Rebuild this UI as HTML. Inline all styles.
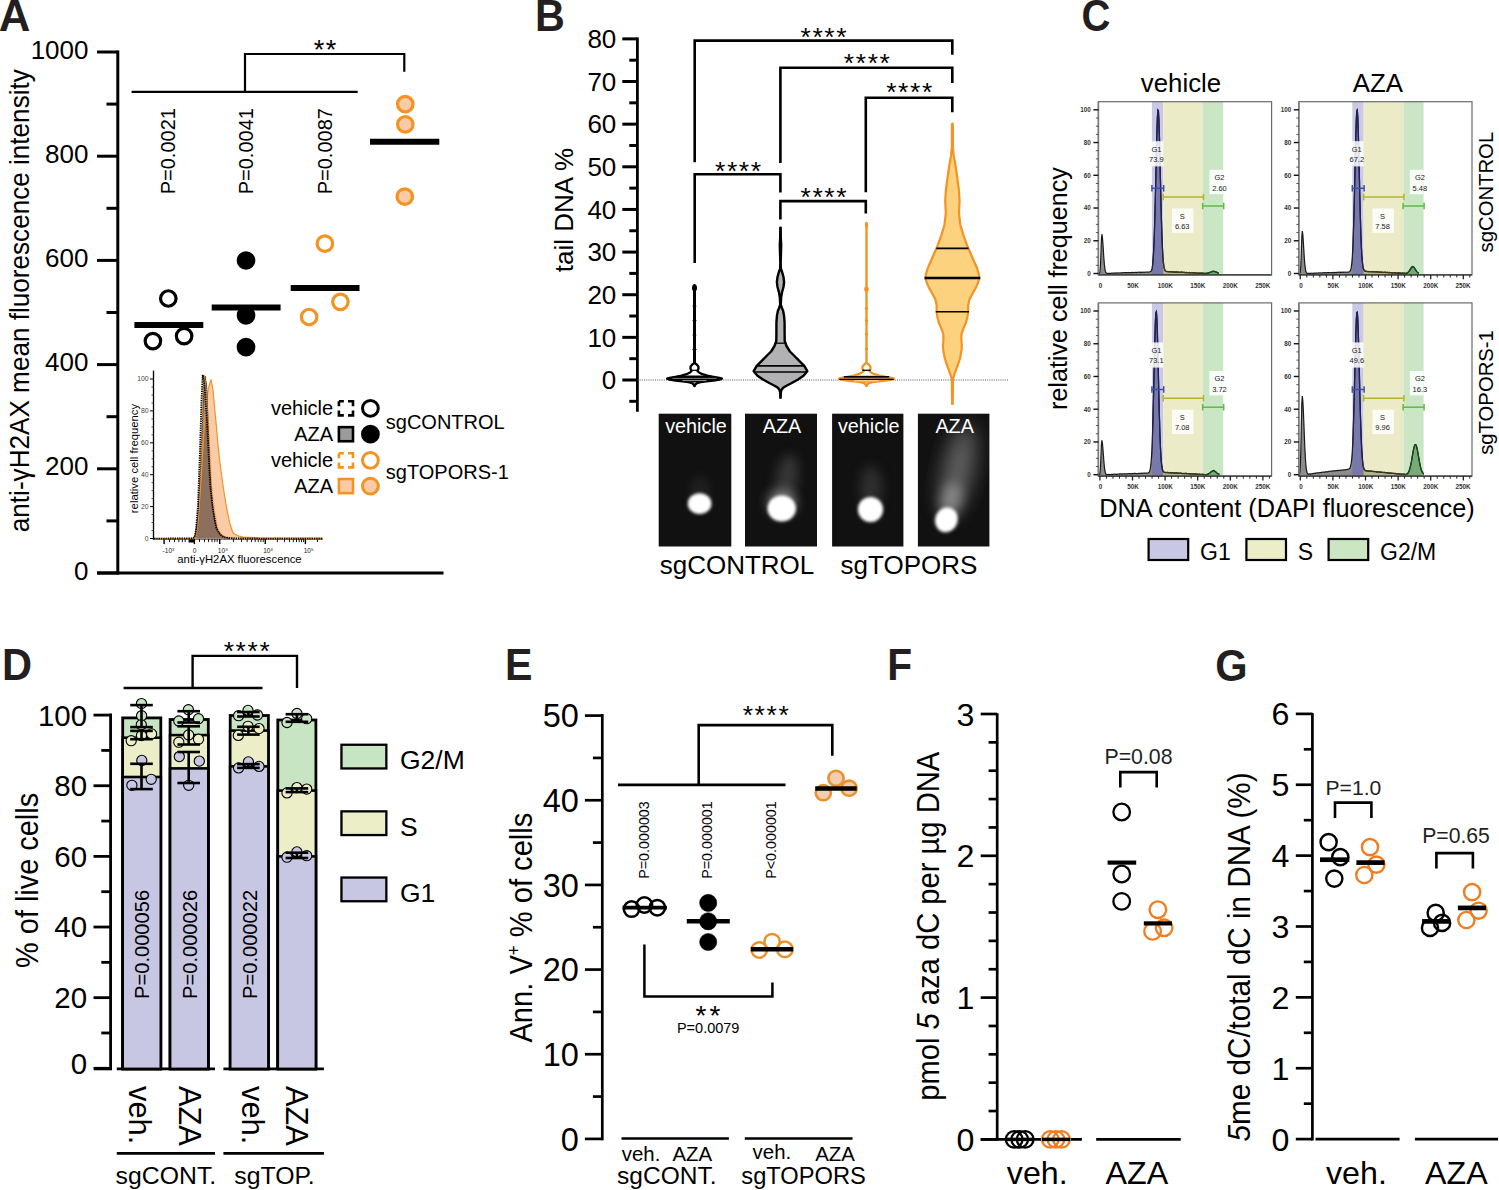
<!DOCTYPE html>
<html><head><meta charset="utf-8"><style>
html,body{margin:0;padding:0;background:#fff;}
svg{display:block;font-family:"Liberation Sans",sans-serif;}
</style></head><body>
<svg width="1499" height="1190" viewBox="0 0 1499 1190">
<defs><clipPath id="clipOr"><path d="M154,538.6 L193,538.4 L195,536 L198,520 L201,480 L204,430 L206.5,400 L208.5,388 L211,379.4 L213,390 L216.3,425.5 L218,445 L220,463.3 L222.5,482 L225.4,501 L228,515 L229.9,523.8 L232.9,532.8 L237,535.5 L243.5,537.2 L260,537.8 L322,538.2 L322,538.9 L154,538.9Z"/></clipPath><filter id="bl1" x="-50%" y="-50%" width="200%" height="200%"><feGaussianBlur stdDeviation="1.6"/></filter><filter id="bl2" x="-50%" y="-50%" width="200%" height="200%"><feGaussianBlur stdDeviation="6"/></filter><filter id="bl3" x="-50%" y="-50%" width="200%" height="200%"><feGaussianBlur stdDeviation="10"/></filter><clipPath id="cb0"><rect x="658.7" y="413.7" width="72.6" height="132.8"/></clipPath><clipPath id="cb1"><rect x="745" y="413.7" width="72" height="132.8"/></clipPath><clipPath id="cb2"><rect x="832.1" y="413.7" width="71.3" height="132.8"/></clipPath><clipPath id="cb3"><rect x="917.9" y="413.7" width="71.5" height="132.8"/></clipPath><clipPath id="c1098_101_0"><rect x="1098.4" y="101.7" width="173.2" height="175.2"/></clipPath><clipPath id="c1098_101_1"><rect x="1151.9" y="101.7" width="11.3" height="175.2"/></clipPath><clipPath id="c1098_101_2"><rect x="1163.2" y="101.7" width="39.8" height="175.2"/></clipPath><clipPath id="c1098_101_3"><rect x="1203" y="101.7" width="20.2" height="175.2"/></clipPath><path id="c1098_101_d" d="M1098.4,274.9 L1098.4,273.5 L1098.9,273.46 L1099.4,273.3 L1099.9,271.88 L1100.4,266.58 L1100.9,254.5 L1101.4,239.56 L1101.9,234.2 L1102.4,237.3 L1102.9,243.55 L1103.4,251.11 L1103.9,258.76 L1104.4,264.65 L1104.9,268.86 L1105.4,271.25 L1105.9,272.67 L1106.4,273.1 L1106.9,273.23 L1107.4,273.38 L1107.9,273.32 L1108.4,273.32 L1108.9,273.48 L1109.4,273.25 L1109.9,273.28 L1110.4,273.34 L1110.9,273.4 L1111.4,273.13 L1111.9,273.23 L1112.4,273.14 L1112.9,273.07 L1113.4,273.1 L1113.9,273.02 L1114.4,273.15 L1114.9,273.02 L1115.4,273.1 L1115.9,272.94 L1116.4,272.94 L1116.9,273.15 L1117.4,273.12 L1117.9,273.08 L1118.4,272.84 L1118.9,272.98 L1119.4,272.91 L1119.9,272.99 L1120.4,272.91 L1120.9,272.93 L1121.4,272.92 L1121.9,272.84 L1122.4,272.82 L1122.9,272.71 L1123.4,272.76 L1123.9,272.67 L1124.4,272.67 L1124.9,272.62 L1125.4,272.7 L1125.9,272.83 L1126.4,272.61 L1126.9,272.56 L1127.4,272.57 L1127.9,272.65 L1128.4,272.59 L1128.9,272.72 L1129.4,272.53 L1129.9,272.59 L1130.4,272.66 L1130.9,272.71 L1131.4,272.46 L1131.9,272.4 L1132.4,272.65 L1132.9,272.43 L1133.4,272.53 L1133.9,272.59 L1134.4,272.53 L1134.9,272.38 L1135.4,272.33 L1135.9,272.56 L1136.4,272.38 L1136.9,272.54 L1137.4,272.32 L1137.9,272.42 L1138.4,272.25 L1138.9,272.2 L1139.4,272.33 L1139.9,272.17 L1140.4,272.36 L1140.9,272.41 L1141.4,272.24 L1141.9,272.4 L1142.4,272.33 L1142.9,272.26 L1143.4,272.18 L1143.9,272.3 L1144.4,272.32 L1144.9,272.07 L1145.4,272.22 L1145.9,272.01 L1146.4,272.02 L1146.9,272.16 L1147.4,272.12 L1147.9,272.08 L1148.4,272.03 L1148.9,272.01 L1149.4,271.97 L1149.9,271.85 L1150.4,271.54 L1150.9,271.26 L1151.4,270.48 L1151.9,268.91 L1152.4,266.45 L1152.9,261.99 L1153.4,254.99 L1153.9,245.29 L1154.4,231.9 L1154.9,215.2 L1155.4,195.04 L1155.9,173.02 L1156.4,151.25 L1156.9,131.66 L1157.4,117.26 L1157.9,110.1 L1158.4,110.77 L1158.9,119.69 L1159.4,135.22 L1159.9,155.45 L1160.4,177.48 L1160.9,199.2 L1161.4,218.9 L1161.9,235.04 L1162.4,247.32 L1162.9,256.26 L1163.4,262.59 L1163.9,266.44 L1164.4,268.76 L1164.9,270.18 L1165.4,270.9 L1165.9,271.29 L1166.4,271.47 L1166.9,271.51 L1167.4,271.65 L1167.9,271.67 L1168.4,271.58 L1168.9,271.82 L1169.4,271.69 L1169.9,271.67 L1170.4,271.81 L1170.9,271.86 L1171.4,271.72 L1171.9,271.91 L1172.4,271.95 L1172.9,271.9 L1173.4,271.85 L1173.9,272.05 L1174.4,272 L1174.9,272.03 L1175.4,271.9 L1175.9,272.04 L1176.4,271.94 L1176.9,272.17 L1177.4,272.15 L1177.9,272.08 L1178.4,272.03 L1178.9,272.18 L1179.4,272.28 L1179.9,272.33 L1180.4,272.23 L1180.9,272.36 L1181.4,272.2 L1181.9,272.22 L1182.4,272.43 L1182.9,272.43 L1183.4,272.3 L1183.9,272.37 L1184.4,272.35 L1184.9,272.51 L1185.4,272.59 L1185.9,272.57 L1186.4,272.45 L1186.9,272.62 L1187.4,272.63 L1187.9,272.63 L1188.4,272.65 L1188.9,272.68 L1189.4,272.55 L1189.9,272.8 L1190.4,272.87 L1190.9,272.62 L1191.4,272.66 L1191.9,272.66 L1192.4,272.84 L1192.9,272.71 L1193.4,272.75 L1193.9,272.98 L1194.4,272.85 L1194.9,272.84 L1195.4,272.92 L1195.9,272.99 L1196.4,273.08 L1196.9,273.09 L1197.4,273.15 L1197.9,273.22 L1198.4,273.09 L1198.9,273.2 L1199.4,273.07 L1199.9,273.32 L1200.4,273.09 L1200.9,273.18 L1201.4,273.12 L1201.9,273.13 L1202.4,273.12 L1202.9,273.22 L1203.4,273.38 L1203.9,273.16 L1204.4,273.5 L1204.9,273.5 L1205.4,273.39 L1205.9,273.4 L1206.4,273.39 L1206.9,273.17 L1207.4,273.18 L1207.9,273.15 L1208.4,273.04 L1208.9,272.7 L1209.4,272.63 L1209.9,272.34 L1210.4,272.25 L1210.9,272.09 L1211.4,271.79 L1211.9,271.53 L1212.4,271.58 L1212.9,271.32 L1213.4,271.25 L1213.9,271.31 L1214.4,271.39 L1214.9,271.77 L1215.4,271.76 L1215.9,271.89 L1216.4,272.21 L1216.9,272.42 L1217.4,272.63 L1217.9,272.81 L1218.4,272.97 L1218.9,273.1 L1218.9,274.9Z"/><path id="c1098_101_l" d="M1098.4,273.5 L1098.9,273.46 L1099.4,273.3 L1099.9,271.88 L1100.4,266.58 L1100.9,254.5 L1101.4,239.56 L1101.9,234.2 L1102.4,237.3 L1102.9,243.55 L1103.4,251.11 L1103.9,258.76 L1104.4,264.65 L1104.9,268.86 L1105.4,271.25 L1105.9,272.67 L1106.4,273.1 L1106.9,273.23 L1107.4,273.38 L1107.9,273.32 L1108.4,273.32 L1108.9,273.48 L1109.4,273.25 L1109.9,273.28 L1110.4,273.34 L1110.9,273.4 L1111.4,273.13 L1111.9,273.23 L1112.4,273.14 L1112.9,273.07 L1113.4,273.1 L1113.9,273.02 L1114.4,273.15 L1114.9,273.02 L1115.4,273.1 L1115.9,272.94 L1116.4,272.94 L1116.9,273.15 L1117.4,273.12 L1117.9,273.08 L1118.4,272.84 L1118.9,272.98 L1119.4,272.91 L1119.9,272.99 L1120.4,272.91 L1120.9,272.93 L1121.4,272.92 L1121.9,272.84 L1122.4,272.82 L1122.9,272.71 L1123.4,272.76 L1123.9,272.67 L1124.4,272.67 L1124.9,272.62 L1125.4,272.7 L1125.9,272.83 L1126.4,272.61 L1126.9,272.56 L1127.4,272.57 L1127.9,272.65 L1128.4,272.59 L1128.9,272.72 L1129.4,272.53 L1129.9,272.59 L1130.4,272.66 L1130.9,272.71 L1131.4,272.46 L1131.9,272.4 L1132.4,272.65 L1132.9,272.43 L1133.4,272.53 L1133.9,272.59 L1134.4,272.53 L1134.9,272.38 L1135.4,272.33 L1135.9,272.56 L1136.4,272.38 L1136.9,272.54 L1137.4,272.32 L1137.9,272.42 L1138.4,272.25 L1138.9,272.2 L1139.4,272.33 L1139.9,272.17 L1140.4,272.36 L1140.9,272.41 L1141.4,272.24 L1141.9,272.4 L1142.4,272.33 L1142.9,272.26 L1143.4,272.18 L1143.9,272.3 L1144.4,272.32 L1144.9,272.07 L1145.4,272.22 L1145.9,272.01 L1146.4,272.02 L1146.9,272.16 L1147.4,272.12 L1147.9,272.08 L1148.4,272.03 L1148.9,272.01 L1149.4,271.97 L1149.9,271.85 L1150.4,271.54 L1150.9,271.26 L1151.4,270.48 L1151.9,268.91 L1152.4,266.45 L1152.9,261.99 L1153.4,254.99 L1153.9,245.29 L1154.4,231.9 L1154.9,215.2 L1155.4,195.04 L1155.9,173.02 L1156.4,151.25 L1156.9,131.66 L1157.4,117.26 L1157.9,110.1 L1158.4,110.77 L1158.9,119.69 L1159.4,135.22 L1159.9,155.45 L1160.4,177.48 L1160.9,199.2 L1161.4,218.9 L1161.9,235.04 L1162.4,247.32 L1162.9,256.26 L1163.4,262.59 L1163.9,266.44 L1164.4,268.76 L1164.9,270.18 L1165.4,270.9 L1165.9,271.29 L1166.4,271.47 L1166.9,271.51 L1167.4,271.65 L1167.9,271.67 L1168.4,271.58 L1168.9,271.82 L1169.4,271.69 L1169.9,271.67 L1170.4,271.81 L1170.9,271.86 L1171.4,271.72 L1171.9,271.91 L1172.4,271.95 L1172.9,271.9 L1173.4,271.85 L1173.9,272.05 L1174.4,272 L1174.9,272.03 L1175.4,271.9 L1175.9,272.04 L1176.4,271.94 L1176.9,272.17 L1177.4,272.15 L1177.9,272.08 L1178.4,272.03 L1178.9,272.18 L1179.4,272.28 L1179.9,272.33 L1180.4,272.23 L1180.9,272.36 L1181.4,272.2 L1181.9,272.22 L1182.4,272.43 L1182.9,272.43 L1183.4,272.3 L1183.9,272.37 L1184.4,272.35 L1184.9,272.51 L1185.4,272.59 L1185.9,272.57 L1186.4,272.45 L1186.9,272.62 L1187.4,272.63 L1187.9,272.63 L1188.4,272.65 L1188.9,272.68 L1189.4,272.55 L1189.9,272.8 L1190.4,272.87 L1190.9,272.62 L1191.4,272.66 L1191.9,272.66 L1192.4,272.84 L1192.9,272.71 L1193.4,272.75 L1193.9,272.98 L1194.4,272.85 L1194.9,272.84 L1195.4,272.92 L1195.9,272.99 L1196.4,273.08 L1196.9,273.09 L1197.4,273.15 L1197.9,273.22 L1198.4,273.09 L1198.9,273.2 L1199.4,273.07 L1199.9,273.32 L1200.4,273.09 L1200.9,273.18 L1201.4,273.12 L1201.9,273.13 L1202.4,273.12 L1202.9,273.22 L1203.4,273.38 L1203.9,273.16 L1204.4,273.5 L1204.9,273.5 L1205.4,273.39 L1205.9,273.4 L1206.4,273.39 L1206.9,273.17 L1207.4,273.18 L1207.9,273.15 L1208.4,273.04 L1208.9,272.7 L1209.4,272.63 L1209.9,272.34 L1210.4,272.25 L1210.9,272.09 L1211.4,271.79 L1211.9,271.53 L1212.4,271.58 L1212.9,271.32 L1213.4,271.25 L1213.9,271.31 L1214.4,271.39 L1214.9,271.77 L1215.4,271.76 L1215.9,271.89 L1216.4,272.21 L1216.9,272.42 L1217.4,272.63 L1217.9,272.81 L1218.4,272.97 L1218.9,273.1"/><clipPath id="c1298_101_0"><rect x="1298.8" y="101.7" width="173.2" height="175.2"/></clipPath><clipPath id="c1298_101_1"><rect x="1352.3" y="101.7" width="11.3" height="175.2"/></clipPath><clipPath id="c1298_101_2"><rect x="1363.6" y="101.7" width="39.8" height="175.2"/></clipPath><clipPath id="c1298_101_3"><rect x="1403.4" y="101.7" width="20.2" height="175.2"/></clipPath><path id="c1298_101_d" d="M1298.8,274.9 L1298.8,273.5 L1299.3,273.5 L1299.8,273.31 L1300.3,271.77 L1300.8,266.07 L1301.3,252.79 L1301.8,236.5 L1302.3,231.18 L1302.8,234.34 L1303.3,241.08 L1303.8,249.51 L1304.3,257.65 L1304.8,263.88 L1305.3,268.37 L1305.8,271.23 L1306.3,272.48 L1306.8,273.17 L1307.3,273.38 L1307.8,273.43 L1308.3,273.35 L1308.8,273.35 L1309.3,273.39 L1309.8,273.42 L1310.3,273.36 L1310.8,273.39 L1311.3,273.25 L1311.8,273.18 L1312.3,273.26 L1312.8,273.32 L1313.3,273.28 L1313.8,273.2 L1314.3,273.11 L1314.8,273.04 L1315.3,273.14 L1315.8,273 L1316.3,273.03 L1316.8,273.07 L1317.3,273.07 L1317.8,273.02 L1318.3,272.94 L1318.8,273 L1319.3,272.9 L1319.8,272.96 L1320.3,273 L1320.8,272.9 L1321.3,272.84 L1321.8,273 L1322.3,272.88 L1322.8,272.87 L1323.3,272.72 L1323.8,272.68 L1324.3,272.83 L1324.8,272.66 L1325.3,272.68 L1325.8,272.82 L1326.3,272.74 L1326.8,272.83 L1327.3,272.61 L1327.8,272.64 L1328.3,272.56 L1328.8,272.57 L1329.3,272.59 L1329.8,272.55 L1330.3,272.59 L1330.8,272.71 L1331.3,272.55 L1331.8,272.71 L1332.3,272.65 L1332.8,272.45 L1333.3,272.65 L1333.8,272.62 L1334.3,272.61 L1334.8,272.36 L1335.3,272.55 L1335.8,272.58 L1336.3,272.33 L1336.8,272.53 L1337.3,272.3 L1337.8,272.34 L1338.3,272.27 L1338.8,272.22 L1339.3,272.32 L1339.8,272.24 L1340.3,272.45 L1340.8,272.22 L1341.3,272.28 L1341.8,272.21 L1342.3,272.38 L1342.8,272.17 L1343.3,272.1 L1343.8,272.35 L1344.3,272.26 L1344.8,272.17 L1345.3,272.08 L1345.8,272.24 L1346.3,272.24 L1346.8,272.21 L1347.3,272.08 L1347.8,272.01 L1348.3,272.07 L1348.8,271.99 L1349.3,271.8 L1349.8,271.44 L1350.3,270.7 L1350.8,269.46 L1351.3,267.01 L1351.8,262.99 L1352.3,257.06 L1352.8,247.96 L1353.3,235.47 L1353.8,218.97 L1354.3,199.28 L1354.8,177.38 L1355.3,155.29 L1355.8,135.15 L1356.3,119.51 L1356.8,110.56 L1357.3,109.94 L1357.8,117.28 L1358.3,131.48 L1358.8,150.85 L1359.3,172.91 L1359.8,194.91 L1360.3,214.88 L1360.8,231.9 L1361.3,245.08 L1361.8,254.75 L1362.3,261.26 L1362.8,265.61 L1363.3,268.26 L1363.8,269.63 L1364.3,270.39 L1364.8,271.02 L1365.3,271.12 L1365.8,271.32 L1366.3,271.26 L1366.8,271.38 L1367.3,271.51 L1367.8,271.55 L1368.3,271.63 L1368.8,271.53 L1369.3,271.58 L1369.8,271.67 L1370.3,271.64 L1370.8,271.68 L1371.3,271.57 L1371.8,271.78 L1372.3,271.56 L1372.8,271.74 L1373.3,271.73 L1373.8,271.79 L1374.3,271.71 L1374.8,271.74 L1375.3,271.84 L1375.8,271.89 L1376.3,271.85 L1376.8,271.83 L1377.3,271.99 L1377.8,271.92 L1378.3,271.88 L1378.8,272.05 L1379.3,272.15 L1379.8,272.17 L1380.3,272.06 L1380.8,272.09 L1381.3,272.04 L1381.8,272.09 L1382.3,272.3 L1382.8,272.34 L1383.3,272.35 L1383.8,272.39 L1384.3,272.27 L1384.8,272.25 L1385.3,272.26 L1385.8,272.48 L1386.3,272.32 L1386.8,272.51 L1387.3,272.51 L1387.8,272.44 L1388.3,272.66 L1388.8,272.68 L1389.3,272.49 L1389.8,272.68 L1390.3,272.68 L1390.8,272.64 L1391.3,272.64 L1391.8,272.86 L1392.3,272.79 L1392.8,272.79 L1393.3,272.8 L1393.8,272.91 L1394.3,272.82 L1394.8,272.74 L1395.3,272.93 L1395.8,272.91 L1396.3,273.07 L1396.8,273.05 L1397.3,272.96 L1397.8,273.15 L1398.3,272.94 L1398.8,272.96 L1399.3,273.23 L1399.8,273.01 L1400.3,273.2 L1400.8,273.11 L1401.3,273.14 L1401.8,273.28 L1402.3,273.17 L1402.8,273.18 L1403.3,273.13 L1403.8,273.28 L1404.3,273.13 L1404.8,273.32 L1405.3,273.37 L1405.8,273.35 L1406.3,273.38 L1406.8,273.12 L1407.3,272.93 L1407.8,272.51 L1408.3,272.09 L1408.8,271.57 L1409.3,271.01 L1409.8,270.11 L1410.3,269.29 L1410.8,268.6 L1411.3,267.64 L1411.8,267.11 L1412.3,266.87 L1412.8,266.5 L1413.3,266.87 L1413.8,267.2 L1414.3,267.69 L1414.8,268.48 L1415.3,269.31 L1415.8,270.11 L1416.3,270.93 L1416.8,271.59 L1417.3,272.14 L1417.8,272.57 L1418.3,272.89 L1418.8,273.11 L1418.8,274.9Z"/><path id="c1298_101_l" d="M1298.8,273.5 L1299.3,273.5 L1299.8,273.31 L1300.3,271.77 L1300.8,266.07 L1301.3,252.79 L1301.8,236.5 L1302.3,231.18 L1302.8,234.34 L1303.3,241.08 L1303.8,249.51 L1304.3,257.65 L1304.8,263.88 L1305.3,268.37 L1305.8,271.23 L1306.3,272.48 L1306.8,273.17 L1307.3,273.38 L1307.8,273.43 L1308.3,273.35 L1308.8,273.35 L1309.3,273.39 L1309.8,273.42 L1310.3,273.36 L1310.8,273.39 L1311.3,273.25 L1311.8,273.18 L1312.3,273.26 L1312.8,273.32 L1313.3,273.28 L1313.8,273.2 L1314.3,273.11 L1314.8,273.04 L1315.3,273.14 L1315.8,273 L1316.3,273.03 L1316.8,273.07 L1317.3,273.07 L1317.8,273.02 L1318.3,272.94 L1318.8,273 L1319.3,272.9 L1319.8,272.96 L1320.3,273 L1320.8,272.9 L1321.3,272.84 L1321.8,273 L1322.3,272.88 L1322.8,272.87 L1323.3,272.72 L1323.8,272.68 L1324.3,272.83 L1324.8,272.66 L1325.3,272.68 L1325.8,272.82 L1326.3,272.74 L1326.8,272.83 L1327.3,272.61 L1327.8,272.64 L1328.3,272.56 L1328.8,272.57 L1329.3,272.59 L1329.8,272.55 L1330.3,272.59 L1330.8,272.71 L1331.3,272.55 L1331.8,272.71 L1332.3,272.65 L1332.8,272.45 L1333.3,272.65 L1333.8,272.62 L1334.3,272.61 L1334.8,272.36 L1335.3,272.55 L1335.8,272.58 L1336.3,272.33 L1336.8,272.53 L1337.3,272.3 L1337.8,272.34 L1338.3,272.27 L1338.8,272.22 L1339.3,272.32 L1339.8,272.24 L1340.3,272.45 L1340.8,272.22 L1341.3,272.28 L1341.8,272.21 L1342.3,272.38 L1342.8,272.17 L1343.3,272.1 L1343.8,272.35 L1344.3,272.26 L1344.8,272.17 L1345.3,272.08 L1345.8,272.24 L1346.3,272.24 L1346.8,272.21 L1347.3,272.08 L1347.8,272.01 L1348.3,272.07 L1348.8,271.99 L1349.3,271.8 L1349.8,271.44 L1350.3,270.7 L1350.8,269.46 L1351.3,267.01 L1351.8,262.99 L1352.3,257.06 L1352.8,247.96 L1353.3,235.47 L1353.8,218.97 L1354.3,199.28 L1354.8,177.38 L1355.3,155.29 L1355.8,135.15 L1356.3,119.51 L1356.8,110.56 L1357.3,109.94 L1357.8,117.28 L1358.3,131.48 L1358.8,150.85 L1359.3,172.91 L1359.8,194.91 L1360.3,214.88 L1360.8,231.9 L1361.3,245.08 L1361.8,254.75 L1362.3,261.26 L1362.8,265.61 L1363.3,268.26 L1363.8,269.63 L1364.3,270.39 L1364.8,271.02 L1365.3,271.12 L1365.8,271.32 L1366.3,271.26 L1366.8,271.38 L1367.3,271.51 L1367.8,271.55 L1368.3,271.63 L1368.8,271.53 L1369.3,271.58 L1369.8,271.67 L1370.3,271.64 L1370.8,271.68 L1371.3,271.57 L1371.8,271.78 L1372.3,271.56 L1372.8,271.74 L1373.3,271.73 L1373.8,271.79 L1374.3,271.71 L1374.8,271.74 L1375.3,271.84 L1375.8,271.89 L1376.3,271.85 L1376.8,271.83 L1377.3,271.99 L1377.8,271.92 L1378.3,271.88 L1378.8,272.05 L1379.3,272.15 L1379.8,272.17 L1380.3,272.06 L1380.8,272.09 L1381.3,272.04 L1381.8,272.09 L1382.3,272.3 L1382.8,272.34 L1383.3,272.35 L1383.8,272.39 L1384.3,272.27 L1384.8,272.25 L1385.3,272.26 L1385.8,272.48 L1386.3,272.32 L1386.8,272.51 L1387.3,272.51 L1387.8,272.44 L1388.3,272.66 L1388.8,272.68 L1389.3,272.49 L1389.8,272.68 L1390.3,272.68 L1390.8,272.64 L1391.3,272.64 L1391.8,272.86 L1392.3,272.79 L1392.8,272.79 L1393.3,272.8 L1393.8,272.91 L1394.3,272.82 L1394.8,272.74 L1395.3,272.93 L1395.8,272.91 L1396.3,273.07 L1396.8,273.05 L1397.3,272.96 L1397.8,273.15 L1398.3,272.94 L1398.8,272.96 L1399.3,273.23 L1399.8,273.01 L1400.3,273.2 L1400.8,273.11 L1401.3,273.14 L1401.8,273.28 L1402.3,273.17 L1402.8,273.18 L1403.3,273.13 L1403.8,273.28 L1404.3,273.13 L1404.8,273.32 L1405.3,273.37 L1405.8,273.35 L1406.3,273.38 L1406.8,273.12 L1407.3,272.93 L1407.8,272.51 L1408.3,272.09 L1408.8,271.57 L1409.3,271.01 L1409.8,270.11 L1410.3,269.29 L1410.8,268.6 L1411.3,267.64 L1411.8,267.11 L1412.3,266.87 L1412.8,266.5 L1413.3,266.87 L1413.8,267.2 L1414.3,267.69 L1414.8,268.48 L1415.3,269.31 L1415.8,270.11 L1416.3,270.93 L1416.8,271.59 L1417.3,272.14 L1417.8,272.57 L1418.3,272.89 L1418.8,273.11"/><clipPath id="c1098_302_0"><rect x="1098.4" y="302.9" width="173.2" height="175.2"/></clipPath><clipPath id="c1098_302_1"><rect x="1151.9" y="302.9" width="11.3" height="175.2"/></clipPath><clipPath id="c1098_302_2"><rect x="1163.2" y="302.9" width="39.8" height="175.2"/></clipPath><clipPath id="c1098_302_3"><rect x="1203" y="302.9" width="20.2" height="175.2"/></clipPath><path id="c1098_302_d" d="M1098.4,476.1 L1098.4,474.7 L1098.9,474.7 L1099.4,474.62 L1099.9,473.25 L1100.4,468.6 L1100.9,457.95 L1101.4,444.81 L1101.9,440.44 L1102.4,443.04 L1102.9,448.46 L1103.4,455.13 L1103.9,461.93 L1104.4,467.05 L1104.9,470.71 L1105.4,472.69 L1105.9,473.92 L1106.4,474.44 L1106.9,474.58 L1107.4,474.58 L1107.9,474.5 L1108.4,474.6 L1108.9,474.43 L1109.4,474.62 L1109.9,474.55 L1110.4,474.58 L1110.9,474.55 L1111.4,474.33 L1111.9,474.32 L1112.4,474.46 L1112.9,474.44 L1113.4,474.35 L1113.9,474.23 L1114.4,474.19 L1114.9,474.19 L1115.4,474.21 L1115.9,474.32 L1116.4,474.23 L1116.9,474.27 L1117.4,474.15 L1117.9,474.12 L1118.4,474.21 L1118.9,474.18 L1119.4,474 L1119.9,474.2 L1120.4,473.96 L1120.9,473.91 L1121.4,473.88 L1121.9,474.02 L1122.4,473.96 L1122.9,473.93 L1123.4,473.9 L1123.9,473.78 L1124.4,473.84 L1124.9,473.94 L1125.4,473.76 L1125.9,473.85 L1126.4,473.8 L1126.9,473.74 L1127.4,473.94 L1127.9,473.7 L1128.4,473.71 L1128.9,473.75 L1129.4,473.72 L1129.9,473.72 L1130.4,473.78 L1130.9,473.67 L1131.4,473.79 L1131.9,473.64 L1132.4,473.58 L1132.9,473.63 L1133.4,473.57 L1133.9,473.44 L1134.4,473.44 L1134.9,473.65 L1135.4,473.44 L1135.9,473.47 L1136.4,473.63 L1136.9,473.52 L1137.4,473.54 L1137.9,473.57 L1138.4,473.42 L1138.9,473.29 L1139.4,473.45 L1139.9,473.27 L1140.4,473.31 L1140.9,473.46 L1141.4,473.23 L1141.9,473.29 L1142.4,473.18 L1142.9,473.23 L1143.4,473.2 L1143.9,473.31 L1144.4,473.15 L1144.9,473.1 L1145.4,473.11 L1145.9,473.21 L1146.4,473.1 L1146.9,473.15 L1147.4,473.21 L1147.9,473.14 L1148.4,472.95 L1148.9,472.54 L1149.4,471.83 L1149.9,470.41 L1150.4,468.01 L1150.9,464.2 L1151.4,458.17 L1151.9,449.14 L1152.4,436.84 L1152.9,420.52 L1153.4,400.84 L1153.9,379.12 L1154.4,356.96 L1154.9,336.71 L1155.4,321.25 L1155.9,312.53 L1156.4,311.7 L1156.9,318.95 L1157.4,333.26 L1157.9,352.7 L1158.4,374.59 L1158.9,396.4 L1159.4,416.18 L1159.9,433.15 L1160.4,446.19 L1160.9,455.87 L1161.4,462.46 L1161.9,466.72 L1162.4,469.23 L1162.9,470.81 L1163.4,471.68 L1163.9,472.09 L1164.4,472.3 L1164.9,472.32 L1165.4,472.52 L1165.9,472.57 L1166.4,472.48 L1166.9,472.52 L1167.4,472.46 L1167.9,472.68 L1168.4,472.61 L1168.9,472.64 L1169.4,472.77 L1169.9,472.53 L1170.4,472.77 L1170.9,472.84 L1171.4,472.75 L1171.9,472.87 L1172.4,472.77 L1172.9,472.88 L1173.4,472.97 L1173.9,473.02 L1174.4,472.85 L1174.9,473.01 L1175.4,472.89 L1175.9,473.01 L1176.4,472.9 L1176.9,473.11 L1177.4,473.16 L1177.9,473.18 L1178.4,473.04 L1178.9,473.13 L1179.4,473.24 L1179.9,473.34 L1180.4,473.2 L1180.9,473.14 L1181.4,473.28 L1181.9,473.48 L1182.4,473.5 L1182.9,473.51 L1183.4,473.51 L1183.9,473.58 L1184.4,473.6 L1184.9,473.45 L1185.4,473.41 L1185.9,473.64 L1186.4,473.44 L1186.9,473.62 L1187.4,473.55 L1187.9,473.54 L1188.4,473.57 L1188.9,473.86 L1189.4,473.81 L1189.9,473.75 L1190.4,473.68 L1190.9,473.96 L1191.4,473.92 L1191.9,473.79 L1192.4,474.03 L1192.9,473.98 L1193.4,474.02 L1193.9,473.95 L1194.4,473.9 L1194.9,474.15 L1195.4,474.02 L1195.9,474.05 L1196.4,474.04 L1196.9,474.15 L1197.4,474.07 L1197.9,474.27 L1198.4,474.28 L1198.9,474.36 L1199.4,474.23 L1199.9,474.34 L1200.4,474.43 L1200.9,474.49 L1201.4,474.34 L1201.9,474.37 L1202.4,474.34 L1202.9,474.44 L1203.4,474.4 L1203.9,474.5 L1204.4,474.62 L1204.9,474.7 L1205.4,474.66 L1205.9,474.54 L1206.4,474.51 L1206.9,474.59 L1207.4,474.43 L1207.9,474.08 L1208.4,473.92 L1208.9,473.57 L1209.4,473.22 L1209.9,472.95 L1210.4,472.38 L1210.9,471.97 L1211.4,471.64 L1211.9,471.23 L1212.4,471 L1212.9,470.71 L1213.4,470.47 L1213.9,470.79 L1214.4,470.86 L1214.9,471.31 L1215.4,471.71 L1215.9,471.99 L1216.4,472.49 L1216.9,472.93 L1217.4,473.33 L1217.9,473.68 L1218.4,473.96 L1218.9,474.19 L1219.4,474.35 L1219.4,476.1Z"/><path id="c1098_302_l" d="M1098.4,474.7 L1098.9,474.7 L1099.4,474.62 L1099.9,473.25 L1100.4,468.6 L1100.9,457.95 L1101.4,444.81 L1101.9,440.44 L1102.4,443.04 L1102.9,448.46 L1103.4,455.13 L1103.9,461.93 L1104.4,467.05 L1104.9,470.71 L1105.4,472.69 L1105.9,473.92 L1106.4,474.44 L1106.9,474.58 L1107.4,474.58 L1107.9,474.5 L1108.4,474.6 L1108.9,474.43 L1109.4,474.62 L1109.9,474.55 L1110.4,474.58 L1110.9,474.55 L1111.4,474.33 L1111.9,474.32 L1112.4,474.46 L1112.9,474.44 L1113.4,474.35 L1113.9,474.23 L1114.4,474.19 L1114.9,474.19 L1115.4,474.21 L1115.9,474.32 L1116.4,474.23 L1116.9,474.27 L1117.4,474.15 L1117.9,474.12 L1118.4,474.21 L1118.9,474.18 L1119.4,474 L1119.9,474.2 L1120.4,473.96 L1120.9,473.91 L1121.4,473.88 L1121.9,474.02 L1122.4,473.96 L1122.9,473.93 L1123.4,473.9 L1123.9,473.78 L1124.4,473.84 L1124.9,473.94 L1125.4,473.76 L1125.9,473.85 L1126.4,473.8 L1126.9,473.74 L1127.4,473.94 L1127.9,473.7 L1128.4,473.71 L1128.9,473.75 L1129.4,473.72 L1129.9,473.72 L1130.4,473.78 L1130.9,473.67 L1131.4,473.79 L1131.9,473.64 L1132.4,473.58 L1132.9,473.63 L1133.4,473.57 L1133.9,473.44 L1134.4,473.44 L1134.9,473.65 L1135.4,473.44 L1135.9,473.47 L1136.4,473.63 L1136.9,473.52 L1137.4,473.54 L1137.9,473.57 L1138.4,473.42 L1138.9,473.29 L1139.4,473.45 L1139.9,473.27 L1140.4,473.31 L1140.9,473.46 L1141.4,473.23 L1141.9,473.29 L1142.4,473.18 L1142.9,473.23 L1143.4,473.2 L1143.9,473.31 L1144.4,473.15 L1144.9,473.1 L1145.4,473.11 L1145.9,473.21 L1146.4,473.1 L1146.9,473.15 L1147.4,473.21 L1147.9,473.14 L1148.4,472.95 L1148.9,472.54 L1149.4,471.83 L1149.9,470.41 L1150.4,468.01 L1150.9,464.2 L1151.4,458.17 L1151.9,449.14 L1152.4,436.84 L1152.9,420.52 L1153.4,400.84 L1153.9,379.12 L1154.4,356.96 L1154.9,336.71 L1155.4,321.25 L1155.9,312.53 L1156.4,311.7 L1156.9,318.95 L1157.4,333.26 L1157.9,352.7 L1158.4,374.59 L1158.9,396.4 L1159.4,416.18 L1159.9,433.15 L1160.4,446.19 L1160.9,455.87 L1161.4,462.46 L1161.9,466.72 L1162.4,469.23 L1162.9,470.81 L1163.4,471.68 L1163.9,472.09 L1164.4,472.3 L1164.9,472.32 L1165.4,472.52 L1165.9,472.57 L1166.4,472.48 L1166.9,472.52 L1167.4,472.46 L1167.9,472.68 L1168.4,472.61 L1168.9,472.64 L1169.4,472.77 L1169.9,472.53 L1170.4,472.77 L1170.9,472.84 L1171.4,472.75 L1171.9,472.87 L1172.4,472.77 L1172.9,472.88 L1173.4,472.97 L1173.9,473.02 L1174.4,472.85 L1174.9,473.01 L1175.4,472.89 L1175.9,473.01 L1176.4,472.9 L1176.9,473.11 L1177.4,473.16 L1177.9,473.18 L1178.4,473.04 L1178.9,473.13 L1179.4,473.24 L1179.9,473.34 L1180.4,473.2 L1180.9,473.14 L1181.4,473.28 L1181.9,473.48 L1182.4,473.5 L1182.9,473.51 L1183.4,473.51 L1183.9,473.58 L1184.4,473.6 L1184.9,473.45 L1185.4,473.41 L1185.9,473.64 L1186.4,473.44 L1186.9,473.62 L1187.4,473.55 L1187.9,473.54 L1188.4,473.57 L1188.9,473.86 L1189.4,473.81 L1189.9,473.75 L1190.4,473.68 L1190.9,473.96 L1191.4,473.92 L1191.9,473.79 L1192.4,474.03 L1192.9,473.98 L1193.4,474.02 L1193.9,473.95 L1194.4,473.9 L1194.9,474.15 L1195.4,474.02 L1195.9,474.05 L1196.4,474.04 L1196.9,474.15 L1197.4,474.07 L1197.9,474.27 L1198.4,474.28 L1198.9,474.36 L1199.4,474.23 L1199.9,474.34 L1200.4,474.43 L1200.9,474.49 L1201.4,474.34 L1201.9,474.37 L1202.4,474.34 L1202.9,474.44 L1203.4,474.4 L1203.9,474.5 L1204.4,474.62 L1204.9,474.7 L1205.4,474.66 L1205.9,474.54 L1206.4,474.51 L1206.9,474.59 L1207.4,474.43 L1207.9,474.08 L1208.4,473.92 L1208.9,473.57 L1209.4,473.22 L1209.9,472.95 L1210.4,472.38 L1210.9,471.97 L1211.4,471.64 L1211.9,471.23 L1212.4,471 L1212.9,470.71 L1213.4,470.47 L1213.9,470.79 L1214.4,470.86 L1214.9,471.31 L1215.4,471.71 L1215.9,471.99 L1216.4,472.49 L1216.9,472.93 L1217.4,473.33 L1217.9,473.68 L1218.4,473.96 L1218.9,474.19 L1219.4,474.35"/><clipPath id="c1298_302_0"><rect x="1298.8" y="302.9" width="173.2" height="175.2"/></clipPath><clipPath id="c1298_302_1"><rect x="1352.3" y="302.9" width="11.3" height="175.2"/></clipPath><clipPath id="c1298_302_2"><rect x="1363.6" y="302.9" width="39.8" height="175.2"/></clipPath><clipPath id="c1298_302_3"><rect x="1403.4" y="302.9" width="20.2" height="175.2"/></clipPath><path id="c1298_302_d" d="M1298.8,476.1 L1298.8,474.7 L1299.3,474.4 L1299.8,472.56 L1300.3,466.19 L1300.8,451.24 L1301.3,427.19 L1301.8,403.59 L1302.3,396.11 L1302.8,400.45 L1303.3,409.49 L1303.8,421.79 L1304.3,434.83 L1304.8,446.99 L1305.3,456.78 L1305.8,464.06 L1306.3,468.92 L1306.8,471.79 L1307.3,473.25 L1307.8,473.71 L1308.3,474.19 L1308.8,474.28 L1309.3,473.97 L1309.8,474.13 L1310.3,473.85 L1310.8,474 L1311.3,473.81 L1311.8,473.8 L1312.3,473.55 L1312.8,473.54 L1313.3,473.45 L1313.8,473.34 L1314.3,473.24 L1314.8,473.32 L1315.3,473.18 L1315.8,473.15 L1316.3,473.18 L1316.8,472.9 L1317.3,472.9 L1317.8,472.77 L1318.3,472.88 L1318.8,472.72 L1319.3,472.68 L1319.8,472.53 L1320.3,472.66 L1320.8,472.52 L1321.3,472.41 L1321.8,472.47 L1322.3,472.27 L1322.8,472.15 L1323.3,472.18 L1323.8,472.06 L1324.3,472.01 L1324.8,472.06 L1325.3,471.96 L1325.8,471.71 L1326.3,471.85 L1326.8,471.76 L1327.3,471.8 L1327.8,471.7 L1328.3,471.66 L1328.8,471.38 L1329.3,471.38 L1329.8,471.28 L1330.3,471.19 L1330.8,471.24 L1331.3,471.09 L1331.8,471.15 L1332.3,471.13 L1332.8,470.91 L1333.3,470.87 L1333.8,470.8 L1334.3,470.88 L1334.8,470.74 L1335.3,470.8 L1335.8,470.57 L1336.3,470.53 L1336.8,470.66 L1337.3,470.42 L1337.8,470.59 L1338.3,470.56 L1338.8,470.32 L1339.3,470.39 L1339.8,470.27 L1340.3,470.18 L1340.8,470.31 L1341.3,470.05 L1341.8,470.13 L1342.3,470.03 L1342.8,470.01 L1343.3,469.84 L1343.8,469.78 L1344.3,469.86 L1344.8,469.87 L1345.3,469.76 L1345.8,469.67 L1346.3,469.72 L1346.8,469.64 L1347.3,469.4 L1347.8,469.34 L1348.3,469.14 L1348.8,468.96 L1349.3,468.67 L1349.8,468.25 L1350.3,467.29 L1350.8,465.48 L1351.3,462.57 L1351.8,458.02 L1352.3,451.22 L1352.8,441.66 L1353.3,428.33 L1353.8,412.05 L1354.3,392.79 L1354.8,371.79 L1355.3,351.67 L1355.8,333.81 L1356.3,320.12 L1356.8,312.36 L1357.3,312.19 L1357.8,319.05 L1358.3,332.22 L1358.8,350.22 L1359.3,370.57 L1359.8,391.27 L1360.3,410.52 L1360.8,427.05 L1361.3,440.64 L1361.8,450.72 L1362.3,458.1 L1362.8,462.98 L1363.3,466.45 L1363.8,468.36 L1364.3,469.56 L1364.8,470.08 L1365.3,470.46 L1365.8,470.74 L1366.3,470.72 L1366.8,470.93 L1367.3,470.93 L1367.8,471 L1368.3,470.89 L1368.8,471.05 L1369.3,471.14 L1369.8,471.26 L1370.3,471.19 L1370.8,471.18 L1371.3,471.21 L1371.8,471.19 L1372.3,471.27 L1372.8,471.49 L1373.3,471.57 L1373.8,471.43 L1374.3,471.47 L1374.8,471.6 L1375.3,471.56 L1375.8,471.69 L1376.3,471.81 L1376.8,471.9 L1377.3,471.99 L1377.8,471.85 L1378.3,471.83 L1378.8,471.87 L1379.3,472.05 L1379.8,472.04 L1380.3,472.01 L1380.8,472.09 L1381.3,472.2 L1381.8,472.31 L1382.3,472.32 L1382.8,472.48 L1383.3,472.52 L1383.8,472.42 L1384.3,472.38 L1384.8,472.56 L1385.3,472.65 L1385.8,472.71 L1386.3,472.73 L1386.8,472.68 L1387.3,472.83 L1387.8,472.73 L1388.3,473.01 L1388.8,473.01 L1389.3,473 L1389.8,473.08 L1390.3,473 L1390.8,473.06 L1391.3,473.07 L1391.8,473.22 L1392.3,473.44 L1392.8,473.32 L1393.3,473.38 L1393.8,473.45 L1394.3,473.56 L1394.8,473.48 L1395.3,473.47 L1395.8,473.75 L1396.3,473.63 L1396.8,473.77 L1397.3,473.78 L1397.8,473.71 L1398.3,473.74 L1398.8,473.88 L1399.3,474.06 L1399.8,473.9 L1400.3,474.16 L1400.8,474.15 L1401.3,474.07 L1401.8,474.24 L1402.3,474.25 L1402.8,474.05 L1403.3,474.04 L1403.8,474.22 L1404.3,474.17 L1404.8,474.68 L1405.3,474.66 L1405.8,474.52 L1406.3,474.15 L1406.8,474.18 L1407.3,473.78 L1407.8,473.29 L1408.3,472.63 L1408.8,471.55 L1409.3,470.26 L1409.8,468.68 L1410.3,466.84 L1410.8,464.53 L1411.3,462.22 L1411.8,459.33 L1412.3,456.2 L1412.8,453.52 L1413.3,450.69 L1413.8,448.2 L1414.3,446.33 L1414.8,444.96 L1415.3,444.56 L1415.8,444.74 L1416.3,445.53 L1416.8,447.35 L1417.3,449.6 L1417.8,452.26 L1418.3,455.15 L1418.8,458.1 L1419.3,460.97 L1419.8,463.64 L1420.3,466.02 L1420.8,468.06 L1421.3,469.75 L1421.8,471.11 L1422.3,472.16 L1422.8,472.95 L1423.3,473.52 L1423.8,473.93 L1423.8,476.1Z"/><path id="c1298_302_l" d="M1298.8,474.7 L1299.3,474.4 L1299.8,472.56 L1300.3,466.19 L1300.8,451.24 L1301.3,427.19 L1301.8,403.59 L1302.3,396.11 L1302.8,400.45 L1303.3,409.49 L1303.8,421.79 L1304.3,434.83 L1304.8,446.99 L1305.3,456.78 L1305.8,464.06 L1306.3,468.92 L1306.8,471.79 L1307.3,473.25 L1307.8,473.71 L1308.3,474.19 L1308.8,474.28 L1309.3,473.97 L1309.8,474.13 L1310.3,473.85 L1310.8,474 L1311.3,473.81 L1311.8,473.8 L1312.3,473.55 L1312.8,473.54 L1313.3,473.45 L1313.8,473.34 L1314.3,473.24 L1314.8,473.32 L1315.3,473.18 L1315.8,473.15 L1316.3,473.18 L1316.8,472.9 L1317.3,472.9 L1317.8,472.77 L1318.3,472.88 L1318.8,472.72 L1319.3,472.68 L1319.8,472.53 L1320.3,472.66 L1320.8,472.52 L1321.3,472.41 L1321.8,472.47 L1322.3,472.27 L1322.8,472.15 L1323.3,472.18 L1323.8,472.06 L1324.3,472.01 L1324.8,472.06 L1325.3,471.96 L1325.8,471.71 L1326.3,471.85 L1326.8,471.76 L1327.3,471.8 L1327.8,471.7 L1328.3,471.66 L1328.8,471.38 L1329.3,471.38 L1329.8,471.28 L1330.3,471.19 L1330.8,471.24 L1331.3,471.09 L1331.8,471.15 L1332.3,471.13 L1332.8,470.91 L1333.3,470.87 L1333.8,470.8 L1334.3,470.88 L1334.8,470.74 L1335.3,470.8 L1335.8,470.57 L1336.3,470.53 L1336.8,470.66 L1337.3,470.42 L1337.8,470.59 L1338.3,470.56 L1338.8,470.32 L1339.3,470.39 L1339.8,470.27 L1340.3,470.18 L1340.8,470.31 L1341.3,470.05 L1341.8,470.13 L1342.3,470.03 L1342.8,470.01 L1343.3,469.84 L1343.8,469.78 L1344.3,469.86 L1344.8,469.87 L1345.3,469.76 L1345.8,469.67 L1346.3,469.72 L1346.8,469.64 L1347.3,469.4 L1347.8,469.34 L1348.3,469.14 L1348.8,468.96 L1349.3,468.67 L1349.8,468.25 L1350.3,467.29 L1350.8,465.48 L1351.3,462.57 L1351.8,458.02 L1352.3,451.22 L1352.8,441.66 L1353.3,428.33 L1353.8,412.05 L1354.3,392.79 L1354.8,371.79 L1355.3,351.67 L1355.8,333.81 L1356.3,320.12 L1356.8,312.36 L1357.3,312.19 L1357.8,319.05 L1358.3,332.22 L1358.8,350.22 L1359.3,370.57 L1359.8,391.27 L1360.3,410.52 L1360.8,427.05 L1361.3,440.64 L1361.8,450.72 L1362.3,458.1 L1362.8,462.98 L1363.3,466.45 L1363.8,468.36 L1364.3,469.56 L1364.8,470.08 L1365.3,470.46 L1365.8,470.74 L1366.3,470.72 L1366.8,470.93 L1367.3,470.93 L1367.8,471 L1368.3,470.89 L1368.8,471.05 L1369.3,471.14 L1369.8,471.26 L1370.3,471.19 L1370.8,471.18 L1371.3,471.21 L1371.8,471.19 L1372.3,471.27 L1372.8,471.49 L1373.3,471.57 L1373.8,471.43 L1374.3,471.47 L1374.8,471.6 L1375.3,471.56 L1375.8,471.69 L1376.3,471.81 L1376.8,471.9 L1377.3,471.99 L1377.8,471.85 L1378.3,471.83 L1378.8,471.87 L1379.3,472.05 L1379.8,472.04 L1380.3,472.01 L1380.8,472.09 L1381.3,472.2 L1381.8,472.31 L1382.3,472.32 L1382.8,472.48 L1383.3,472.52 L1383.8,472.42 L1384.3,472.38 L1384.8,472.56 L1385.3,472.65 L1385.8,472.71 L1386.3,472.73 L1386.8,472.68 L1387.3,472.83 L1387.8,472.73 L1388.3,473.01 L1388.8,473.01 L1389.3,473 L1389.8,473.08 L1390.3,473 L1390.8,473.06 L1391.3,473.07 L1391.8,473.22 L1392.3,473.44 L1392.8,473.32 L1393.3,473.38 L1393.8,473.45 L1394.3,473.56 L1394.8,473.48 L1395.3,473.47 L1395.8,473.75 L1396.3,473.63 L1396.8,473.77 L1397.3,473.78 L1397.8,473.71 L1398.3,473.74 L1398.8,473.88 L1399.3,474.06 L1399.8,473.9 L1400.3,474.16 L1400.8,474.15 L1401.3,474.07 L1401.8,474.24 L1402.3,474.25 L1402.8,474.05 L1403.3,474.04 L1403.8,474.22 L1404.3,474.17 L1404.8,474.68 L1405.3,474.66 L1405.8,474.52 L1406.3,474.15 L1406.8,474.18 L1407.3,473.78 L1407.8,473.29 L1408.3,472.63 L1408.8,471.55 L1409.3,470.26 L1409.8,468.68 L1410.3,466.84 L1410.8,464.53 L1411.3,462.22 L1411.8,459.33 L1412.3,456.2 L1412.8,453.52 L1413.3,450.69 L1413.8,448.2 L1414.3,446.33 L1414.8,444.96 L1415.3,444.56 L1415.8,444.74 L1416.3,445.53 L1416.8,447.35 L1417.3,449.6 L1417.8,452.26 L1418.3,455.15 L1418.8,458.1 L1419.3,460.97 L1419.8,463.64 L1420.3,466.02 L1420.8,468.06 L1421.3,469.75 L1421.8,471.11 L1422.3,472.16 L1422.8,472.95 L1423.3,473.52 L1423.8,473.93"/></defs>
<rect width="1499" height="1190" fill="#fff"/>
<text transform="translate(-1.3 30.8) scale(1.0 1)" font-size="43.8" font-weight="bold" fill="#231F20">A</text>
<text transform="translate(535.1 30.8) scale(0.943 1)" font-size="43.8" font-weight="bold" fill="#231F20">B</text>
<text transform="translate(1081.4 30.8) scale(0.914 1)" font-size="43.8" font-weight="bold" fill="#231F20">C</text>
<text transform="translate(2.1 679.9) scale(0.95 1)" font-size="43.8" font-weight="bold" fill="#231F20">D</text>
<text transform="translate(505.1 679.9) scale(0.94 1)" font-size="43.8" font-weight="bold" fill="#231F20">E</text>
<text transform="translate(887.2 679.9) scale(0.93 1)" font-size="43.8" font-weight="bold" fill="#231F20">F</text>
<text transform="translate(1215.3 680.5) scale(0.95 1)" font-size="43.8" font-weight="bold" fill="#231F20">G</text>
<line x1="117.8" y1="50.6" x2="117.8" y2="574.5" stroke="#000" stroke-width="3" />
<line x1="97" y1="573" x2="443.5" y2="573" stroke="#000" stroke-width="3" />
<line x1="97" y1="573" x2="117.8" y2="573" stroke="#000" stroke-width="3" />
<text x="88.5" y="579.5" font-size="26" text-anchor="end" fill="#000" >0</text>
<line x1="106.5" y1="520.9" x2="117.8" y2="520.9" stroke="#000" stroke-width="3" />
<line x1="97" y1="468.8" x2="117.8" y2="468.8" stroke="#000" stroke-width="3" />
<text x="88.5" y="475.3" font-size="26" text-anchor="end" fill="#000" >200</text>
<line x1="106.5" y1="416.7" x2="117.8" y2="416.7" stroke="#000" stroke-width="3" />
<line x1="97" y1="364.6" x2="117.8" y2="364.6" stroke="#000" stroke-width="3" />
<text x="88.5" y="371.1" font-size="26" text-anchor="end" fill="#000" >400</text>
<line x1="106.5" y1="312.5" x2="117.8" y2="312.5" stroke="#000" stroke-width="3" />
<line x1="97" y1="260.4" x2="117.8" y2="260.4" stroke="#000" stroke-width="3" />
<text x="88.5" y="266.9" font-size="26" text-anchor="end" fill="#000" >600</text>
<line x1="106.5" y1="208.3" x2="117.8" y2="208.3" stroke="#000" stroke-width="3" />
<line x1="97" y1="156.2" x2="117.8" y2="156.2" stroke="#000" stroke-width="3" />
<text x="88.5" y="162.7" font-size="26" text-anchor="end" fill="#000" >800</text>
<line x1="106.5" y1="104.1" x2="117.8" y2="104.1" stroke="#000" stroke-width="3" />
<line x1="97" y1="52" x2="117.8" y2="52" stroke="#000" stroke-width="3" />
<text x="88.5" y="58.5" font-size="26" text-anchor="end" fill="#000" >1000</text>
<text x="29.2" y="300.7" font-size="27.2" text-anchor="middle" fill="#000" transform="rotate(-90 29.2 300.7)" textLength="463" lengthAdjust="spacingAndGlyphs">anti-γH2AX mean fluorescence intensity</text>
<line x1="134.4" y1="325" x2="203.3" y2="325" stroke="#000" stroke-width="6" />
<line x1="211.7" y1="307.5" x2="280.6" y2="307.5" stroke="#000" stroke-width="6" />
<line x1="290.7" y1="288" x2="359.5" y2="288" stroke="#000" stroke-width="6" />
<line x1="370" y1="141.7" x2="439.3" y2="141.7" stroke="#000" stroke-width="6" />
<circle cx="168.3" cy="298.5" r="7.75" stroke="#000" fill="white" stroke-width="3.2" />
<circle cx="152.9" cy="341.1" r="7.75" stroke="#000" fill="white" stroke-width="3.2" />
<circle cx="184.1" cy="336.1" r="7.75" stroke="#000" fill="white" stroke-width="3.2" />
<circle cx="246" cy="260.5" r="7.75" stroke="#000" fill="#000" stroke-width="3.2" />
<circle cx="246" cy="315.3" r="7.75" stroke="#000" fill="#000" stroke-width="3.2" />
<circle cx="246" cy="347.2" r="7.75" stroke="#000" fill="#000" stroke-width="3.2" />
<circle cx="324.9" cy="243.7" r="7.75" stroke="#F39323" fill="white" stroke-width="3.2" />
<circle cx="309.1" cy="317" r="7.75" stroke="#F39323" fill="white" stroke-width="3.2" />
<circle cx="340.4" cy="301.8" r="7.75" stroke="#F39323" fill="white" stroke-width="3.2" />
<circle cx="405.3" cy="104.1" r="7.75" stroke="#F39323" fill="#F9CBA7" stroke-width="3.2" />
<circle cx="405.3" cy="124.3" r="7.75" stroke="#F39323" fill="#F9CBA7" stroke-width="3.2" />
<circle cx="404.8" cy="196.7" r="7.75" stroke="#F39323" fill="#F9CBA7" stroke-width="3.2" />
<line x1="131.6" y1="91.9" x2="357.7" y2="91.9" stroke="#000" stroke-width="2.2" />
<path d="M245,91.9 L245,54 L404.3,54 L404.3,71.7" stroke="#000" stroke-width="2.2" fill="none" stroke-linejoin="miter" />
<text x="325.8" y="59.31" font-size="27" text-anchor="middle" fill="#000" letter-spacing="1.6">**</text>
<text x="175.3" y="151.2" font-size="20" text-anchor="middle" fill="#000" transform="rotate(-90 175.3 151.2)" >P=0.0021</text>
<text x="253.3" y="151.2" font-size="20" text-anchor="middle" fill="#000" transform="rotate(-90 253.3 151.2)" >P=0.0041</text>
<text x="332.3" y="151.2" font-size="20" text-anchor="middle" fill="#000" transform="rotate(-90 332.3 151.2)" >P=0.0087</text>
<line x1="153.5" y1="370.6" x2="153.5" y2="539.5" stroke="#000" stroke-width="1.3" />
<line x1="152.6" y1="538.9" x2="322.9" y2="538.9" stroke="#000" stroke-width="1.3" />
<line x1="150" y1="538.5" x2="153.5" y2="538.5" stroke="#000" stroke-width="1" />
<text x="148.6" y="540.9" font-size="6.8" text-anchor="end" fill="#444" >0</text>
<line x1="150" y1="506.6" x2="153.5" y2="506.6" stroke="#000" stroke-width="1" />
<text x="148.6" y="509" font-size="6.8" text-anchor="end" fill="#444" >20</text>
<line x1="150" y1="474.7" x2="153.5" y2="474.7" stroke="#000" stroke-width="1" />
<text x="148.6" y="477.1" font-size="6.8" text-anchor="end" fill="#444" >40</text>
<line x1="150" y1="442.8" x2="153.5" y2="442.8" stroke="#000" stroke-width="1" />
<text x="148.6" y="445.2" font-size="6.8" text-anchor="end" fill="#444" >60</text>
<line x1="150" y1="410.9" x2="153.5" y2="410.9" stroke="#000" stroke-width="1" />
<text x="148.6" y="413.3" font-size="6.8" text-anchor="end" fill="#444" >80</text>
<line x1="150" y1="379" x2="153.5" y2="379" stroke="#000" stroke-width="1" />
<text x="148.6" y="381.4" font-size="6.8" text-anchor="end" fill="#444" >100</text>
<line x1="151.5" y1="530.52" x2="153.5" y2="530.52" stroke="#000" stroke-width="0.7" />
<line x1="151.5" y1="522.55" x2="153.5" y2="522.55" stroke="#000" stroke-width="0.7" />
<line x1="151.5" y1="514.58" x2="153.5" y2="514.58" stroke="#000" stroke-width="0.7" />
<line x1="151.5" y1="498.62" x2="153.5" y2="498.62" stroke="#000" stroke-width="0.7" />
<line x1="151.5" y1="490.65" x2="153.5" y2="490.65" stroke="#000" stroke-width="0.7" />
<line x1="151.5" y1="482.68" x2="153.5" y2="482.68" stroke="#000" stroke-width="0.7" />
<line x1="151.5" y1="466.73" x2="153.5" y2="466.73" stroke="#000" stroke-width="0.7" />
<line x1="151.5" y1="458.75" x2="153.5" y2="458.75" stroke="#000" stroke-width="0.7" />
<line x1="151.5" y1="450.77" x2="153.5" y2="450.77" stroke="#000" stroke-width="0.7" />
<line x1="151.5" y1="434.82" x2="153.5" y2="434.82" stroke="#000" stroke-width="0.7" />
<line x1="151.5" y1="426.85" x2="153.5" y2="426.85" stroke="#000" stroke-width="0.7" />
<line x1="151.5" y1="418.88" x2="153.5" y2="418.88" stroke="#000" stroke-width="0.7" />
<line x1="151.5" y1="402.93" x2="153.5" y2="402.93" stroke="#000" stroke-width="0.7" />
<line x1="151.5" y1="394.95" x2="153.5" y2="394.95" stroke="#000" stroke-width="0.7" />
<line x1="151.5" y1="386.98" x2="153.5" y2="386.98" stroke="#000" stroke-width="0.7" />
<line x1="164.1" y1="538.9" x2="164.1" y2="544.1" stroke="#000" stroke-width="1.4" />
<line x1="194.4" y1="538.9" x2="194.4" y2="544.1" stroke="#000" stroke-width="1.4" />
<line x1="219.7" y1="538.9" x2="219.7" y2="544.1" stroke="#000" stroke-width="1.4" />
<line x1="265.3" y1="538.9" x2="265.3" y2="544.1" stroke="#000" stroke-width="1.4" />
<line x1="305.4" y1="538.9" x2="305.4" y2="544.1" stroke="#000" stroke-width="1.4" />
<line x1="169.5" y1="538.9" x2="169.5" y2="542.1" stroke="#000" stroke-width="0.9" />
<line x1="174.5" y1="538.9" x2="174.5" y2="542.1" stroke="#000" stroke-width="0.9" />
<line x1="178.8" y1="538.9" x2="178.8" y2="542.1" stroke="#000" stroke-width="0.9" />
<line x1="182.3" y1="538.9" x2="182.3" y2="542.1" stroke="#000" stroke-width="0.9" />
<line x1="185.2" y1="538.9" x2="185.2" y2="542.1" stroke="#000" stroke-width="0.9" />
<line x1="199.5" y1="538.9" x2="199.5" y2="542.1" stroke="#000" stroke-width="0.9" />
<line x1="204.5" y1="538.9" x2="204.5" y2="542.1" stroke="#000" stroke-width="0.9" />
<line x1="208.5" y1="538.9" x2="208.5" y2="542.1" stroke="#000" stroke-width="0.9" />
<line x1="212" y1="538.9" x2="212" y2="542.1" stroke="#000" stroke-width="0.9" />
<line x1="214.8" y1="538.9" x2="214.8" y2="542.1" stroke="#000" stroke-width="0.9" />
<line x1="217.2" y1="538.9" x2="217.2" y2="542.1" stroke="#000" stroke-width="0.9" />
<line x1="233.43" y1="538.9" x2="233.43" y2="542.1" stroke="#000" stroke-width="0.9" />
<line x1="241.46" y1="538.9" x2="241.46" y2="542.1" stroke="#000" stroke-width="0.9" />
<line x1="247.15" y1="538.9" x2="247.15" y2="542.1" stroke="#000" stroke-width="0.9" />
<line x1="251.57" y1="538.9" x2="251.57" y2="542.1" stroke="#000" stroke-width="0.9" />
<line x1="255.18" y1="538.9" x2="255.18" y2="542.1" stroke="#000" stroke-width="0.9" />
<line x1="258.24" y1="538.9" x2="258.24" y2="542.1" stroke="#000" stroke-width="0.9" />
<line x1="260.88" y1="538.9" x2="260.88" y2="542.1" stroke="#000" stroke-width="0.9" />
<line x1="263.21" y1="538.9" x2="263.21" y2="542.1" stroke="#000" stroke-width="0.9" />
<line x1="277.37" y1="538.9" x2="277.37" y2="542.1" stroke="#000" stroke-width="0.9" />
<line x1="284.43" y1="538.9" x2="284.43" y2="542.1" stroke="#000" stroke-width="0.9" />
<line x1="289.44" y1="538.9" x2="289.44" y2="542.1" stroke="#000" stroke-width="0.9" />
<line x1="293.33" y1="538.9" x2="293.33" y2="542.1" stroke="#000" stroke-width="0.9" />
<line x1="296.5" y1="538.9" x2="296.5" y2="542.1" stroke="#000" stroke-width="0.9" />
<line x1="299.19" y1="538.9" x2="299.19" y2="542.1" stroke="#000" stroke-width="0.9" />
<line x1="301.51" y1="538.9" x2="301.51" y2="542.1" stroke="#000" stroke-width="0.9" />
<line x1="303.57" y1="538.9" x2="303.57" y2="542.1" stroke="#000" stroke-width="0.9" />
<line x1="317.47" y1="538.9" x2="317.47" y2="542.1" stroke="#000" stroke-width="0.9" />
<line x1="188.6" y1="540.9" x2="195" y2="540.9" stroke="#000" stroke-width="3.2" />
<text x="168.5" y="553.2" font-size="6.6" text-anchor="middle" fill="#222" >-10<tspan font-size="4.2" dy="-2.6">3</tspan></text>
<text x="194.6" y="553.2" font-size="6.6" text-anchor="middle" fill="#222" >0</text>
<text x="222.7" y="553.2" font-size="6.6" text-anchor="middle" fill="#222" >10<tspan font-size="4.2" dy="-2.6">3</tspan></text>
<text x="268" y="553.2" font-size="6.6" text-anchor="middle" fill="#222" >10<tspan font-size="4.2" dy="-2.6">4</tspan></text>
<text x="308.5" y="553.2" font-size="6.6" text-anchor="middle" fill="#222" >10<tspan font-size="4.2" dy="-2.6">5</tspan></text>
<text x="239.5" y="563" font-size="11.3" text-anchor="middle" fill="#000" >anti-γH2AX fluorescence</text>
<text x="137.8" y="458.5" font-size="11.3" text-anchor="middle" fill="#000" transform="rotate(-90 137.8 458.5)" >relative cell frequency</text>
<path d="M154,538.6 L193,538.4 L195,536 L198,520 L201,480 L204,430 L206.5,400 L208.5,388 L211,379.4 L213,390 L216.3,425.5 L218,445 L220,463.3 L222.5,482 L225.4,501 L228,515 L229.9,523.8 L232.9,532.8 L237,535.5 L243.5,537.2 L260,537.8 L322,538.2 L322,538.9 L154,538.9Z" fill="#F9CBA7" stroke="none"/>
<path d="M193,538.6 L195.5,535 L198,515 L200.5,470 L202.5,420 L204,385 L205,376 L206.5,385 L208,420 L210,470 L212.5,505 L215,522 L218,531 L223,536.5 L230,538.6Z" fill="#7d7d7d" stroke="none" opacity="0.85"/>
<path d="M193,538.6 L195.5,535 L198,515 L200.5,470 L202.5,420 L204,385 L205,376 L206.5,385 L208,420 L210,470 L212.5,505 L215,522 L218,531 L223,536.5 L230,538.6Z" fill="#8c6f5c" stroke="none" clip-path="url(#clipOr)"/>
<path d="M154,538.6 L193,538.4 L195,536 L198,520 L201,480 L204,430 L206.5,400 L208.5,388 L211,379.4 L213,390 L216.3,425.5 L218,445 L220,463.3 L222.5,482 L225.4,501 L228,515 L229.9,523.8 L232.9,532.8 L237,535.5 L243.5,537.2 L260,537.8 L322,538.2" fill="none" stroke="#F39323" stroke-width="1.2"/>
<path d="M193,538.6 L195.5,535 L198,515 L200.5,470 L202.5,420 L204,385 L205,376 L206.5,385 L208,420 L210,470 L212.5,505 L215,522 L218,531 L223,536.5 L230,538.6" fill="none" stroke="#333" stroke-width="1"/>
<path d="M155.2,538.6 L193.2,538.4 L195.6,537.4 L197.2,530 L199.2,505 L201.2,450 L202.7,400 L203.9,374.8 L205.7,385 L208.4,425.5 L211.4,486 L214.2,510 L217.5,528.3 L221.2,534.5 L225,537.4 L236.2,538.5 L323.2,538.6" fill="none" stroke="#F39323" stroke-width="1.6" stroke-dasharray="1.2 1"/>
<path d="M154,538.6 L192,538.4 L194.4,537.4 L196,530 L198,505 L200,450 L201.5,400 L202.7,374.8 L204.5,385 L207.2,425.5 L210.2,486 L213,510 L216.3,528.3 L220,534.5 L223.8,537.4 L235,538.5 L322,538.6" fill="none" stroke="#000" stroke-width="1.8" stroke-dasharray="1.3 1"/>
<text x="333.2" y="415.3" font-size="20" text-anchor="end" fill="#000" >vehicle</text>
<rect x="338.9" y="401.25" width="14.1" height="14.1" fill="none" stroke="#000" stroke-width="2.6" stroke-dasharray="4.95 4.2 9.9 4.2 9.9 4.2 9.9 4.2 4.95"/>
<circle cx="370.4" cy="408.3" r="7.9" stroke="#000" fill="white" stroke-width="3" />
<text x="333.2" y="441.2" font-size="20" text-anchor="end" fill="#000" >AZA</text>
<rect x="338.9" y="427.15" width="14.1" height="14.1" fill="#9b9b9b" stroke="#000" stroke-width="2.6"/>
<circle cx="370.4" cy="434.2" r="7.9" stroke="#000" fill="#000" stroke-width="3" />
<text x="333.2" y="467.3" font-size="20" text-anchor="end" fill="#000" >vehicle</text>
<rect x="338.9" y="453.25" width="14.1" height="14.1" fill="none" stroke="#F39323" stroke-width="2.6" stroke-dasharray="4.95 4.2 9.9 4.2 9.9 4.2 9.9 4.2 4.95"/>
<circle cx="370.4" cy="460.3" r="7.9" stroke="#F39323" fill="white" stroke-width="3" />
<text x="333.2" y="493.1" font-size="20" text-anchor="end" fill="#000" >AZA</text>
<rect x="338.9" y="479.05" width="14.1" height="14.1" fill="#F9CBA7" stroke="#F39323" stroke-width="2.6"/>
<circle cx="370.4" cy="486.1" r="7.9" stroke="#F39323" fill="#F9CBA7" stroke-width="3" />
<text x="385.8" y="428.8" font-size="20" text-anchor="start" fill="#000" >sgCONTROL</text>
<text x="385.8" y="479.2" font-size="20" text-anchor="start" fill="#000" >sgTOPORS-1</text>
<line x1="637.4" y1="37.5" x2="637.4" y2="411.8" stroke="#000" stroke-width="2.8" />
<line x1="629.3" y1="401.32" x2="637.4" y2="401.32" stroke="#000" stroke-width="3" />
<line x1="622.3" y1="380" x2="637.4" y2="380" stroke="#000" stroke-width="3" />
<text x="616.3" y="389.3" font-size="26" text-anchor="end" fill="#000" >0</text>
<line x1="629.3" y1="358.68" x2="637.4" y2="358.68" stroke="#000" stroke-width="3" />
<line x1="622.3" y1="337.36" x2="637.4" y2="337.36" stroke="#000" stroke-width="3" />
<text x="616.3" y="346.66" font-size="26" text-anchor="end" fill="#000" >10</text>
<line x1="629.3" y1="316.04" x2="637.4" y2="316.04" stroke="#000" stroke-width="3" />
<line x1="622.3" y1="294.72" x2="637.4" y2="294.72" stroke="#000" stroke-width="3" />
<text x="616.3" y="304.02" font-size="26" text-anchor="end" fill="#000" >20</text>
<line x1="629.3" y1="273.4" x2="637.4" y2="273.4" stroke="#000" stroke-width="3" />
<line x1="622.3" y1="252.08" x2="637.4" y2="252.08" stroke="#000" stroke-width="3" />
<text x="616.3" y="261.38" font-size="26" text-anchor="end" fill="#000" >30</text>
<line x1="629.3" y1="230.76" x2="637.4" y2="230.76" stroke="#000" stroke-width="3" />
<line x1="622.3" y1="209.44" x2="637.4" y2="209.44" stroke="#000" stroke-width="3" />
<text x="616.3" y="218.74" font-size="26" text-anchor="end" fill="#000" >40</text>
<line x1="629.3" y1="188.12" x2="637.4" y2="188.12" stroke="#000" stroke-width="3" />
<line x1="622.3" y1="166.8" x2="637.4" y2="166.8" stroke="#000" stroke-width="3" />
<text x="616.3" y="176.1" font-size="26" text-anchor="end" fill="#000" >50</text>
<line x1="629.3" y1="145.48" x2="637.4" y2="145.48" stroke="#000" stroke-width="3" />
<line x1="622.3" y1="124.16" x2="637.4" y2="124.16" stroke="#000" stroke-width="3" />
<text x="616.3" y="133.46" font-size="26" text-anchor="end" fill="#000" >60</text>
<line x1="629.3" y1="102.84" x2="637.4" y2="102.84" stroke="#000" stroke-width="3" />
<line x1="622.3" y1="81.52" x2="637.4" y2="81.52" stroke="#000" stroke-width="3" />
<text x="616.3" y="90.82" font-size="26" text-anchor="end" fill="#000" >70</text>
<line x1="629.3" y1="60.2" x2="637.4" y2="60.2" stroke="#000" stroke-width="3" />
<line x1="622.3" y1="38.88" x2="637.4" y2="38.88" stroke="#000" stroke-width="3" />
<text x="616.3" y="48.18" font-size="26" text-anchor="end" fill="#000" >80</text>
<line x1="637.4" y1="380" x2="1008.7" y2="380" stroke="#555" stroke-width="1" stroke-dasharray="1 1.2"/>
<text x="572.8" y="210" font-size="26" text-anchor="middle" fill="#000" transform="rotate(-90 572.8 210)" >tail DNA %</text>
<path d="M694.7,162.3 L694.7,40.6 L952.3,40.6 L952.3,54.7" stroke="#000" stroke-width="2.6" fill="none" stroke-linejoin="miter" />
<path d="M780.4,163 L780.4,67.7 L952.3,67.7 L952.3,82.9" stroke="#000" stroke-width="2.6" fill="none" stroke-linejoin="miter" />
<path d="M865.8,192.3 L865.8,97.7 L952.3,97.7 L952.3,112.2" stroke="#000" stroke-width="2.6" fill="none" stroke-linejoin="miter" />
<path d="M694.7,262.9 L694.7,174.2 L780.4,174.2 L780.4,192.6" stroke="#000" stroke-width="2.6" fill="none" stroke-linejoin="miter" />
<path d="M780.4,219.5 L780.4,201.1 L865.8,201.1 L865.8,213.5" stroke="#000" stroke-width="2.6" fill="none" stroke-linejoin="miter" />
<text x="824.3" y="45.54" font-size="26.5" text-anchor="middle" fill="#000" letter-spacing="1.6">****</text>
<text x="867.7" y="71.74" font-size="26.5" text-anchor="middle" fill="#000" letter-spacing="1.6">****</text>
<text x="910" y="101.34" font-size="26.5" text-anchor="middle" fill="#000" letter-spacing="1.6">****</text>
<text x="738.8" y="179.74" font-size="26.5" text-anchor="middle" fill="#000" letter-spacing="1.6">****</text>
<text x="824.3" y="206.44" font-size="26.5" text-anchor="middle" fill="#000" letter-spacing="1.6">****</text>
<line x1="694.5" y1="285.5" x2="694.5" y2="364" stroke="#000" stroke-width="3" stroke-linecap="round"/>
<ellipse cx="694.5" cy="288" rx="2.5" ry="3.4" fill="#000"/>
<ellipse cx="694.5" cy="306" rx="1.9" ry="1.6" fill="#000"/>
<ellipse cx="694.5" cy="320.5" rx="1.9" ry="1.6" fill="#000"/>
<ellipse cx="694.5" cy="335" rx="1.9" ry="1.6" fill="#000"/>
<ellipse cx="694.5" cy="349.3" rx="1.9" ry="1.6" fill="#000"/>
<path d="M694.8,363.1 L696.7,364.5 L698.4,366.5 L698.5,368.5 L697.8,370.3 L697.5,371.2 L699,372.5 L702.5,374.2 L707.5,375.6 L713.5,376.8 L719.5,377.9 L721.9,378.7 L719.5,379.6 L713.5,380.5 L706.5,381.3 L700.5,382.2 L697,383.2 L695.3,384.5 L694.7,386.2 L694.3,386.2 L693.7,384.5 L692,383.2 L688.5,382.2 L682.5,381.3 L675.5,380.5 L669.5,379.6 L667.1,378.7 L669.5,377.9 L675.5,376.8 L681.5,375.6 L686.5,374.2 L690,372.5 L691.5,371.2 L691.2,370.3 L690.5,368.5 L690.6,366.5 L692.3,364.5 L694.2,363.1Z" fill="white" stroke="#000" stroke-width="2.3" stroke-linejoin="round"/>
<path d="M709.5,375.6 L716.5,376.8 L721.9,378 L721.9,379.4 L715.5,380.6 L707.5,381.6 L699.5,382.4 L689.5,382.4 L681.5,381.6 L673.5,380.6 L667.1,379.4 L667.1,378 L672.5,376.8 L679.5,375.6Z" fill="#000"/>
<line x1="691.3" y1="370.3" x2="697.7" y2="370.3" stroke="#000" stroke-width="1.2" />
<line x1="672.5" y1="378.4" x2="716.5" y2="378.4" stroke="#9a9a9a" stroke-width="0.8" />
<line x1="682.5" y1="380.6" x2="706.5" y2="380.6" stroke="#dddddd" stroke-width="0.7" />
<path d="M780.7,227.6 L780.8,238 L781.2,245 L781,252 L780.7,262 L780.8,268.4 L782.1,272 L783.5,277 L784.1,282 L783.5,287 L782.1,292 L781.2,297 L780.8,304.7 L781.9,308 L783.1,310.7 L784.1,316 L784.6,322.8 L784.6,332 L784.7,341 L786.5,346 L789.9,351.5 L794.5,356 L799,360.6 L804.3,365.9 L807.3,371.2 L803.5,375.7 L798,379.5 L791.3,383.3 L786,386 L783.1,387.8 L781.5,390 L780.8,392.4 L780.7,397.7 L780.3,397.7 L780.2,392.4 L779.5,390 L777.9,387.8 L775,386 L769.7,383.3 L763,379.5 L757.5,375.7 L753.7,371.2 L756.7,365.9 L762,360.6 L766.5,356 L771.1,351.5 L774.5,346 L776.3,341 L776.4,332 L776.4,322.8 L776.9,316 L777.9,310.7 L779.1,308 L780.2,304.7 L779.8,297 L778.9,292 L777.5,287 L776.9,282 L777.5,277 L778.9,272 L780.2,268.4 L780.3,262 L780,252 L779.8,245 L780.2,238 L780.3,227.6Z" fill="#B2B2B4" stroke="#000" stroke-width="2.4" stroke-linejoin="round"/>
<line x1="776.3" y1="343.2" x2="784.7" y2="343.2" stroke="#000" stroke-width="1.3" />
<line x1="757" y1="365.9" x2="804" y2="365.9" stroke="#000" stroke-width="1.9" />
<line x1="754.2" y1="372" x2="806.8" y2="372" stroke="#000" stroke-width="1.4" />
<line x1="866.5" y1="223" x2="866.5" y2="364" stroke="#F39323" stroke-width="2.4" stroke-linecap="round"/>
<ellipse cx="866.5" cy="225" rx="1.6" ry="2.5" fill="#F39323"/>
<ellipse cx="866.5" cy="289.2" rx="2.3" ry="2.6" fill="#F39323"/>
<ellipse cx="866.5" cy="308.5" rx="1.6" ry="1.5" fill="#F39323"/>
<ellipse cx="866.5" cy="320.5" rx="1.6" ry="1.5" fill="#F39323"/>
<ellipse cx="866.5" cy="334" rx="1.6" ry="1.5" fill="#F39323"/>
<ellipse cx="866.5" cy="349" rx="1.6" ry="1.5" fill="#F39323"/>
<path d="M866.8,363.1 L868.7,364.5 L870.4,366.5 L870.5,368.5 L869.8,370.3 L869.5,371.2 L871,372.5 L874.5,374.2 L879.5,375.6 L885.5,376.8 L891.5,377.9 L893.9,378.7 L891.5,379.6 L885.5,380.5 L878.5,381.3 L872.5,382.2 L869,383.2 L867.3,384.5 L866.7,386.2 L866.3,386.2 L865.7,384.5 L864,383.2 L860.5,382.2 L854.5,381.3 L847.5,380.5 L841.5,379.6 L839.1,378.7 L841.5,377.9 L847.5,376.8 L853.5,375.6 L858.5,374.2 L862,372.5 L863.5,371.2 L863.2,370.3 L862.5,368.5 L862.6,366.5 L864.3,364.5 L866.2,363.1Z" fill="white" stroke="#F39323" stroke-width="2.3" stroke-linejoin="round"/>
<path d="M881.5,375.6 L888.5,376.8 L893.9,378 L893.9,379.4 L887.5,380.6 L879.5,381.6 L871.5,382.4 L861.5,382.4 L853.5,381.6 L845.5,380.6 L839.1,379.4 L839.1,378 L844.5,376.8 L851.5,375.6Z" fill="#F39323"/>
<line x1="862.2" y1="370.3" x2="870.8" y2="370.3" stroke="#000" stroke-width="1.3" />
<line x1="843.8" y1="376.9" x2="889.2" y2="376.9" stroke="#000" stroke-width="1.9" />
<line x1="842.5" y1="378.3" x2="890.5" y2="378.3" stroke="#aaaaaa" stroke-width="0.6" />
<line x1="839.3" y1="379.4" x2="893.7" y2="379.4" stroke="#000" stroke-width="1.3" />
<line x1="854.5" y1="380.8" x2="878.5" y2="380.8" stroke="#ffffff" stroke-width="0.7" />
<path d="M952.6,123.6 L952.9,126 L952.9,146.3 L953.2,150 L953.7,155.4 L955.6,166 L957.3,178 L958.9,190 L959.6,200.8 L959.3,207 L959,212.9 L959.6,219 L960.4,225 L963.4,235 L967.4,246.2 L970.9,254 L974,261.3 L977,268 L978.6,273.4 L979.5,278 L977.9,283 L975.9,287.6 L972.9,293 L969.4,299.4 L968.2,305 L968.2,311.7 L967.4,317 L965.9,322.9 L963.2,329 L961.4,334.7 L961.4,340.5 L961.8,345 L961.6,349.9 L960.1,358.2 L958.2,364 L956,369.9 L954.2,375 L952.9,379.3 L952.9,385 L952.7,404 L952.1,404 L951.9,385 L951.9,379.3 L950.6,375 L948.8,369.9 L946.6,364 L944.7,358.2 L943.2,349.9 L943,345 L943.4,340.5 L943.4,334.7 L941.6,329 L938.9,322.9 L937.4,317 L936.6,311.7 L936.6,305 L935.4,299.4 L931.9,293 L928.9,287.6 L926.9,283 L925.3,278 L926.2,273.4 L927.8,268 L930.8,261.3 L933.9,254 L937.4,246.2 L941.4,235 L944.4,225 L945.2,219 L945.8,212.9 L945.5,207 L945.2,200.8 L945.9,190 L947.5,178 L949.2,166 L951.1,155.4 L951.6,150 L951.9,146.3 L951.9,126 L952.2,123.6Z" fill="#FDD27E" stroke="#F39323" stroke-width="2.2" stroke-linejoin="round"/>
<line x1="936.3" y1="248.4" x2="968.5" y2="248.4" stroke="#000" stroke-width="1.6" />
<line x1="924.6" y1="278" x2="980.2" y2="278" stroke="#000" stroke-width="2.4" />
<line x1="935.8" y1="311.7" x2="969" y2="311.7" stroke="#000" stroke-width="1.6" />
<rect x="658.7" y="413.7" width="72.6" height="132.8" fill="#111111" stroke="none" stroke-width="0" />
<rect x="745" y="413.7" width="72" height="132.8" fill="#111111" stroke="none" stroke-width="0" />
<rect x="832.1" y="413.7" width="71.3" height="132.8" fill="#111111" stroke="none" stroke-width="0" />
<rect x="917.9" y="413.7" width="71.5" height="132.8" fill="#111111" stroke="none" stroke-width="0" />
<g clip-path="url(#cb0)"><ellipse cx="700" cy="492" rx="9" ry="16" fill="#444" filter="url(#bl2)" opacity="0.35"/><ellipse cx="699.6" cy="503.7" rx="11.8" ry="10.4" fill="#fff" filter="url(#bl1)"/></g>
<g clip-path="url(#cb1)"><ellipse cx="787" cy="478" rx="11" ry="24" fill="#555" filter="url(#bl2)" opacity="0.55" transform="rotate(10 787 478)"/><ellipse cx="782" cy="502" rx="14" ry="12" fill="#999" filter="url(#bl2)" opacity="0.8"/><ellipse cx="781.7" cy="508.5" rx="14.2" ry="13" fill="#fff" filter="url(#bl1)"/></g>
<g clip-path="url(#cb2)"><ellipse cx="871" cy="488" rx="11" ry="22" fill="#4a4a4a" filter="url(#bl2)" opacity="0.55"/><ellipse cx="870.5" cy="509.5" rx="12.6" ry="12.6" fill="#fff" filter="url(#bl1)"/></g>
<g clip-path="url(#cb3)"><ellipse cx="958" cy="470" rx="15" ry="46" fill="#6a6a6a" filter="url(#bl3)" opacity="0.9" transform="rotate(12 958 470)"/><ellipse cx="951" cy="500" rx="10" ry="18" fill="#9a9a9a" filter="url(#bl2)" opacity="0.75" transform="rotate(12 951 500)"/><ellipse cx="946.4" cy="519.8" rx="11.2" ry="12.6" fill="#fff" filter="url(#bl1)" transform="rotate(20 946.4 519.8)"/></g>
<text x="696" y="432.8" font-size="19.8" text-anchor="middle" fill="white" >vehicle</text>
<text x="782" y="432.8" font-size="19.8" text-anchor="middle" fill="white" >AZA</text>
<text x="868.75" y="432.8" font-size="19.8" text-anchor="middle" fill="white" >vehicle</text>
<text x="954.65" y="432.8" font-size="19.8" text-anchor="middle" fill="white" >AZA</text>
<text x="737" y="574" font-size="26" text-anchor="middle" fill="#000" >sgCONTROL</text>
<text x="909" y="574" font-size="26" text-anchor="middle" fill="#000" >sgTOPORS</text>
<rect x="1151.9" y="101.7" width="11.3" height="173.2" fill="#C9C9E6" stroke="none" stroke-width="0" />
<rect x="1163.2" y="101.7" width="39.8" height="173.2" fill="#EBEBC8" stroke="none" stroke-width="0" />
<rect x="1203" y="101.7" width="20.2" height="173.2" fill="#CBE6C5" stroke="none" stroke-width="0" />
<use href="#c1098_101_d" fill="#8C8C8C" clip-path="url(#c1098_101_0)"/>
<use href="#c1098_101_d" fill="#7878AA" clip-path="url(#c1098_101_1)"/>
<use href="#c1098_101_d" fill="#B4B48A" clip-path="url(#c1098_101_2)"/>
<use href="#c1098_101_d" fill="#78AA78" clip-path="url(#c1098_101_3)"/>
<use href="#c1098_101_l" fill="none" stroke="#1a1a1a" stroke-width="1.2" clip-path="url(#c1098_101_0)"/>
<use href="#c1098_101_l" fill="none" stroke="#20205A" stroke-width="1.3" clip-path="url(#c1098_101_1)"/>
<use href="#c1098_101_l" fill="none" stroke="#3A3A1A" stroke-width="1.3" clip-path="url(#c1098_101_2)"/>
<use href="#c1098_101_l" fill="none" stroke="#1A4A1A" stroke-width="1.3" clip-path="url(#c1098_101_3)"/>
<rect x="1098.4" y="101.7" width="173.2" height="173.2" fill="none" stroke="#6a6a6a" stroke-width="1.2" />
<line x1="1098.4" y1="101.7" x2="1098.4" y2="274.9" stroke="#7a7a7a" stroke-width="1.6" />
<line x1="1098.4" y1="274.9" x2="1271.6" y2="274.9" stroke="#333" stroke-width="1.2" />
<line x1="1093.4" y1="273.5" x2="1098.4" y2="273.5" stroke="#111" stroke-width="1.4" />
<text x="1090.8" y="275.9" font-size="6.3" text-anchor="end" fill="#333" font-weight="bold" >0</text>
<line x1="1095.9" y1="265.31" x2="1098.4" y2="265.31" stroke="#333" stroke-width="0.8" />
<line x1="1095.9" y1="257.13" x2="1098.4" y2="257.13" stroke="#333" stroke-width="0.8" />
<line x1="1095.9" y1="248.94" x2="1098.4" y2="248.94" stroke="#333" stroke-width="0.8" />
<line x1="1093.4" y1="240.76" x2="1098.4" y2="240.76" stroke="#111" stroke-width="1.4" />
<text x="1090.8" y="243.16" font-size="6.3" text-anchor="end" fill="#333" font-weight="bold" >20</text>
<line x1="1095.9" y1="232.57" x2="1098.4" y2="232.57" stroke="#333" stroke-width="0.8" />
<line x1="1095.9" y1="224.39" x2="1098.4" y2="224.39" stroke="#333" stroke-width="0.8" />
<line x1="1095.9" y1="216.2" x2="1098.4" y2="216.2" stroke="#333" stroke-width="0.8" />
<line x1="1093.4" y1="208.02" x2="1098.4" y2="208.02" stroke="#111" stroke-width="1.4" />
<text x="1090.8" y="210.42" font-size="6.3" text-anchor="end" fill="#333" font-weight="bold" >40</text>
<line x1="1095.9" y1="199.83" x2="1098.4" y2="199.83" stroke="#333" stroke-width="0.8" />
<line x1="1095.9" y1="191.65" x2="1098.4" y2="191.65" stroke="#333" stroke-width="0.8" />
<line x1="1095.9" y1="183.47" x2="1098.4" y2="183.47" stroke="#333" stroke-width="0.8" />
<line x1="1093.4" y1="175.28" x2="1098.4" y2="175.28" stroke="#111" stroke-width="1.4" />
<text x="1090.8" y="177.68" font-size="6.3" text-anchor="end" fill="#333" font-weight="bold" >60</text>
<line x1="1095.9" y1="167.09" x2="1098.4" y2="167.09" stroke="#333" stroke-width="0.8" />
<line x1="1095.9" y1="158.91" x2="1098.4" y2="158.91" stroke="#333" stroke-width="0.8" />
<line x1="1095.9" y1="150.72" x2="1098.4" y2="150.72" stroke="#333" stroke-width="0.8" />
<line x1="1093.4" y1="142.54" x2="1098.4" y2="142.54" stroke="#111" stroke-width="1.4" />
<text x="1090.8" y="144.94" font-size="6.3" text-anchor="end" fill="#333" font-weight="bold" >80</text>
<line x1="1095.9" y1="134.35" x2="1098.4" y2="134.35" stroke="#333" stroke-width="0.8" />
<line x1="1095.9" y1="126.17" x2="1098.4" y2="126.17" stroke="#333" stroke-width="0.8" />
<line x1="1095.9" y1="117.98" x2="1098.4" y2="117.98" stroke="#333" stroke-width="0.8" />
<line x1="1093.4" y1="109.8" x2="1098.4" y2="109.8" stroke="#111" stroke-width="1.4" />
<text x="1090.8" y="112.2" font-size="6.3" text-anchor="end" fill="#333" font-weight="bold" >100</text>
<text x="1100.5" y="287.5" font-size="6.3" text-anchor="middle" fill="#333" font-weight="bold" >0</text>
<text x="1132.95" y="287.5" font-size="6.3" text-anchor="middle" fill="#333" font-weight="bold" >50K</text>
<text x="1165.4" y="287.5" font-size="6.3" text-anchor="middle" fill="#333" font-weight="bold" >100K</text>
<text x="1197.85" y="287.5" font-size="6.3" text-anchor="middle" fill="#333" font-weight="bold" >150K</text>
<text x="1230.3" y="287.5" font-size="6.3" text-anchor="middle" fill="#333" font-weight="bold" >200K</text>
<text x="1262.75" y="287.5" font-size="6.3" text-anchor="middle" fill="#333" font-weight="bold" >250K</text>
<rect x="1148" y="141.2" width="15.2" height="25.2" fill="white" stroke="none" stroke-width="0" opacity="0.85"/>
<rect x="1209.4" y="169.8" width="13.8" height="24.4" fill="white" stroke="none" stroke-width="0" opacity="0.85"/>
<rect x="1172" y="208.5" width="21.4" height="24.3" fill="white" stroke="none" stroke-width="0" opacity="0.85"/>
<text x="1156.4" y="151.5" font-size="7.5" text-anchor="middle" fill="#222" >G1</text>
<text x="1156.4" y="161.7" font-size="7.5" text-anchor="middle" fill="#222" >73.9</text>
<text x="1219.5" y="180.2" font-size="7.5" text-anchor="middle" fill="#222" >G2</text>
<text x="1219.5" y="190.5" font-size="7.5" text-anchor="middle" fill="#222" >2.60</text>
<text x="1182.2" y="219" font-size="7.5" text-anchor="middle" fill="#222" >S</text>
<text x="1182.2" y="229.2" font-size="7.5" text-anchor="middle" fill="#222" >6.63</text>
<line x1="1151.9" y1="188.3" x2="1163.7" y2="188.3" stroke="#3B4FA8" stroke-width="1.5" />
<line x1="1151.9" y1="185" x2="1151.9" y2="191.6" stroke="#3B4FA8" stroke-width="1.5" />
<line x1="1163.7" y1="185" x2="1163.7" y2="191.6" stroke="#3B4FA8" stroke-width="1.5" />
<line x1="1163.2" y1="197" x2="1203.5" y2="197" stroke="#B5B32E" stroke-width="1.5" />
<line x1="1163.2" y1="193.7" x2="1163.2" y2="200.3" stroke="#B5B32E" stroke-width="1.5" />
<line x1="1203.5" y1="193.7" x2="1203.5" y2="200.3" stroke="#B5B32E" stroke-width="1.5" />
<line x1="1202.7" y1="206" x2="1223.7" y2="206" stroke="#5DBB46" stroke-width="1.5" />
<line x1="1202.7" y1="202.7" x2="1202.7" y2="209.3" stroke="#5DBB46" stroke-width="1.5" />
<line x1="1223.7" y1="202.7" x2="1223.7" y2="209.3" stroke="#5DBB46" stroke-width="1.5" />
<rect x="1352.3" y="101.7" width="11.3" height="173.2" fill="#C9C9E6" stroke="none" stroke-width="0" />
<rect x="1363.6" y="101.7" width="39.8" height="173.2" fill="#EBEBC8" stroke="none" stroke-width="0" />
<rect x="1403.4" y="101.7" width="20.2" height="173.2" fill="#CBE6C5" stroke="none" stroke-width="0" />
<use href="#c1298_101_d" fill="#8C8C8C" clip-path="url(#c1298_101_0)"/>
<use href="#c1298_101_d" fill="#7878AA" clip-path="url(#c1298_101_1)"/>
<use href="#c1298_101_d" fill="#B4B48A" clip-path="url(#c1298_101_2)"/>
<use href="#c1298_101_d" fill="#78AA78" clip-path="url(#c1298_101_3)"/>
<use href="#c1298_101_l" fill="none" stroke="#1a1a1a" stroke-width="1.2" clip-path="url(#c1298_101_0)"/>
<use href="#c1298_101_l" fill="none" stroke="#20205A" stroke-width="1.3" clip-path="url(#c1298_101_1)"/>
<use href="#c1298_101_l" fill="none" stroke="#3A3A1A" stroke-width="1.3" clip-path="url(#c1298_101_2)"/>
<use href="#c1298_101_l" fill="none" stroke="#1A4A1A" stroke-width="1.3" clip-path="url(#c1298_101_3)"/>
<rect x="1298.8" y="101.7" width="173.2" height="173.2" fill="none" stroke="#6a6a6a" stroke-width="1.2" />
<line x1="1298.8" y1="101.7" x2="1298.8" y2="274.9" stroke="#7a7a7a" stroke-width="1.6" />
<line x1="1298.8" y1="274.9" x2="1472" y2="274.9" stroke="#333" stroke-width="1.2" />
<line x1="1293.8" y1="273.5" x2="1298.8" y2="273.5" stroke="#111" stroke-width="1.4" />
<text x="1291.2" y="275.9" font-size="6.3" text-anchor="end" fill="#333" font-weight="bold" >0</text>
<line x1="1296.3" y1="265.31" x2="1298.8" y2="265.31" stroke="#333" stroke-width="0.8" />
<line x1="1296.3" y1="257.13" x2="1298.8" y2="257.13" stroke="#333" stroke-width="0.8" />
<line x1="1296.3" y1="248.94" x2="1298.8" y2="248.94" stroke="#333" stroke-width="0.8" />
<line x1="1293.8" y1="240.76" x2="1298.8" y2="240.76" stroke="#111" stroke-width="1.4" />
<text x="1291.2" y="243.16" font-size="6.3" text-anchor="end" fill="#333" font-weight="bold" >20</text>
<line x1="1296.3" y1="232.57" x2="1298.8" y2="232.57" stroke="#333" stroke-width="0.8" />
<line x1="1296.3" y1="224.39" x2="1298.8" y2="224.39" stroke="#333" stroke-width="0.8" />
<line x1="1296.3" y1="216.2" x2="1298.8" y2="216.2" stroke="#333" stroke-width="0.8" />
<line x1="1293.8" y1="208.02" x2="1298.8" y2="208.02" stroke="#111" stroke-width="1.4" />
<text x="1291.2" y="210.42" font-size="6.3" text-anchor="end" fill="#333" font-weight="bold" >40</text>
<line x1="1296.3" y1="199.83" x2="1298.8" y2="199.83" stroke="#333" stroke-width="0.8" />
<line x1="1296.3" y1="191.65" x2="1298.8" y2="191.65" stroke="#333" stroke-width="0.8" />
<line x1="1296.3" y1="183.47" x2="1298.8" y2="183.47" stroke="#333" stroke-width="0.8" />
<line x1="1293.8" y1="175.28" x2="1298.8" y2="175.28" stroke="#111" stroke-width="1.4" />
<text x="1291.2" y="177.68" font-size="6.3" text-anchor="end" fill="#333" font-weight="bold" >60</text>
<line x1="1296.3" y1="167.09" x2="1298.8" y2="167.09" stroke="#333" stroke-width="0.8" />
<line x1="1296.3" y1="158.91" x2="1298.8" y2="158.91" stroke="#333" stroke-width="0.8" />
<line x1="1296.3" y1="150.72" x2="1298.8" y2="150.72" stroke="#333" stroke-width="0.8" />
<line x1="1293.8" y1="142.54" x2="1298.8" y2="142.54" stroke="#111" stroke-width="1.4" />
<text x="1291.2" y="144.94" font-size="6.3" text-anchor="end" fill="#333" font-weight="bold" >80</text>
<line x1="1296.3" y1="134.35" x2="1298.8" y2="134.35" stroke="#333" stroke-width="0.8" />
<line x1="1296.3" y1="126.17" x2="1298.8" y2="126.17" stroke="#333" stroke-width="0.8" />
<line x1="1296.3" y1="117.98" x2="1298.8" y2="117.98" stroke="#333" stroke-width="0.8" />
<line x1="1293.8" y1="109.8" x2="1298.8" y2="109.8" stroke="#111" stroke-width="1.4" />
<text x="1291.2" y="112.2" font-size="6.3" text-anchor="end" fill="#333" font-weight="bold" >100</text>
<line x1="1300.3" y1="274.9" x2="1300.3" y2="279.3" stroke="#222" stroke-width="1.3" />
<line x1="1306.82" y1="274.9" x2="1306.82" y2="277.5" stroke="#222" stroke-width="1" />
<line x1="1313.34" y1="274.9" x2="1313.34" y2="277.5" stroke="#222" stroke-width="1" />
<line x1="1319.86" y1="274.9" x2="1319.86" y2="277.5" stroke="#222" stroke-width="1" />
<line x1="1326.38" y1="274.9" x2="1326.38" y2="277.5" stroke="#222" stroke-width="1" />
<line x1="1332.9" y1="274.9" x2="1332.9" y2="279.3" stroke="#222" stroke-width="1.3" />
<line x1="1339.42" y1="274.9" x2="1339.42" y2="277.5" stroke="#222" stroke-width="1" />
<line x1="1345.94" y1="274.9" x2="1345.94" y2="277.5" stroke="#222" stroke-width="1" />
<line x1="1352.46" y1="274.9" x2="1352.46" y2="277.5" stroke="#222" stroke-width="1" />
<line x1="1358.98" y1="274.9" x2="1358.98" y2="277.5" stroke="#222" stroke-width="1" />
<line x1="1365.5" y1="274.9" x2="1365.5" y2="279.3" stroke="#222" stroke-width="1.3" />
<line x1="1372.02" y1="274.9" x2="1372.02" y2="277.5" stroke="#222" stroke-width="1" />
<line x1="1378.54" y1="274.9" x2="1378.54" y2="277.5" stroke="#222" stroke-width="1" />
<line x1="1385.06" y1="274.9" x2="1385.06" y2="277.5" stroke="#222" stroke-width="1" />
<line x1="1391.58" y1="274.9" x2="1391.58" y2="277.5" stroke="#222" stroke-width="1" />
<line x1="1398.1" y1="274.9" x2="1398.1" y2="279.3" stroke="#222" stroke-width="1.3" />
<line x1="1404.62" y1="274.9" x2="1404.62" y2="277.5" stroke="#222" stroke-width="1" />
<line x1="1411.14" y1="274.9" x2="1411.14" y2="277.5" stroke="#222" stroke-width="1" />
<line x1="1417.66" y1="274.9" x2="1417.66" y2="277.5" stroke="#222" stroke-width="1" />
<line x1="1424.18" y1="274.9" x2="1424.18" y2="277.5" stroke="#222" stroke-width="1" />
<line x1="1430.7" y1="274.9" x2="1430.7" y2="279.3" stroke="#222" stroke-width="1.3" />
<line x1="1437.22" y1="274.9" x2="1437.22" y2="277.5" stroke="#222" stroke-width="1" />
<line x1="1443.74" y1="274.9" x2="1443.74" y2="277.5" stroke="#222" stroke-width="1" />
<line x1="1450.26" y1="274.9" x2="1450.26" y2="277.5" stroke="#222" stroke-width="1" />
<line x1="1456.78" y1="274.9" x2="1456.78" y2="277.5" stroke="#222" stroke-width="1" />
<line x1="1463.3" y1="274.9" x2="1463.3" y2="279.3" stroke="#222" stroke-width="1.3" />
<line x1="1469.82" y1="274.9" x2="1469.82" y2="277.5" stroke="#222" stroke-width="1" />
<text x="1300.9" y="287.5" font-size="6.3" text-anchor="middle" fill="#333" font-weight="bold" >0</text>
<text x="1333.35" y="287.5" font-size="6.3" text-anchor="middle" fill="#333" font-weight="bold" >50K</text>
<text x="1365.8" y="287.5" font-size="6.3" text-anchor="middle" fill="#333" font-weight="bold" >100K</text>
<text x="1398.25" y="287.5" font-size="6.3" text-anchor="middle" fill="#333" font-weight="bold" >150K</text>
<text x="1430.7" y="287.5" font-size="6.3" text-anchor="middle" fill="#333" font-weight="bold" >200K</text>
<text x="1463.15" y="287.5" font-size="6.3" text-anchor="middle" fill="#333" font-weight="bold" >250K</text>
<rect x="1348.4" y="141.2" width="15.2" height="25.2" fill="white" stroke="none" stroke-width="0" opacity="0.85"/>
<rect x="1409.8" y="169.8" width="13.8" height="24.4" fill="white" stroke="none" stroke-width="0" opacity="0.85"/>
<rect x="1372.4" y="208.5" width="21.4" height="24.3" fill="white" stroke="none" stroke-width="0" opacity="0.85"/>
<text x="1356.8" y="151.5" font-size="7.5" text-anchor="middle" fill="#222" >G1</text>
<text x="1356.8" y="161.7" font-size="7.5" text-anchor="middle" fill="#222" >67.2</text>
<text x="1419.9" y="180.2" font-size="7.5" text-anchor="middle" fill="#222" >G2</text>
<text x="1419.9" y="190.5" font-size="7.5" text-anchor="middle" fill="#222" >5.48</text>
<text x="1382.6" y="219" font-size="7.5" text-anchor="middle" fill="#222" >S</text>
<text x="1382.6" y="229.2" font-size="7.5" text-anchor="middle" fill="#222" >7.58</text>
<line x1="1352.3" y1="188.3" x2="1364.1" y2="188.3" stroke="#3B4FA8" stroke-width="1.5" />
<line x1="1352.3" y1="185" x2="1352.3" y2="191.6" stroke="#3B4FA8" stroke-width="1.5" />
<line x1="1364.1" y1="185" x2="1364.1" y2="191.6" stroke="#3B4FA8" stroke-width="1.5" />
<line x1="1363.6" y1="197" x2="1403.9" y2="197" stroke="#B5B32E" stroke-width="1.5" />
<line x1="1363.6" y1="193.7" x2="1363.6" y2="200.3" stroke="#B5B32E" stroke-width="1.5" />
<line x1="1403.9" y1="193.7" x2="1403.9" y2="200.3" stroke="#B5B32E" stroke-width="1.5" />
<line x1="1403.1" y1="206" x2="1424.1" y2="206" stroke="#5DBB46" stroke-width="1.5" />
<line x1="1403.1" y1="202.7" x2="1403.1" y2="209.3" stroke="#5DBB46" stroke-width="1.5" />
<line x1="1424.1" y1="202.7" x2="1424.1" y2="209.3" stroke="#5DBB46" stroke-width="1.5" />
<rect x="1151.9" y="302.9" width="11.3" height="173.2" fill="#C9C9E6" stroke="none" stroke-width="0" />
<rect x="1163.2" y="302.9" width="39.8" height="173.2" fill="#EBEBC8" stroke="none" stroke-width="0" />
<rect x="1203" y="302.9" width="20.2" height="173.2" fill="#CBE6C5" stroke="none" stroke-width="0" />
<use href="#c1098_302_d" fill="#8C8C8C" clip-path="url(#c1098_302_0)"/>
<use href="#c1098_302_d" fill="#7878AA" clip-path="url(#c1098_302_1)"/>
<use href="#c1098_302_d" fill="#B4B48A" clip-path="url(#c1098_302_2)"/>
<use href="#c1098_302_d" fill="#78AA78" clip-path="url(#c1098_302_3)"/>
<use href="#c1098_302_l" fill="none" stroke="#1a1a1a" stroke-width="1.2" clip-path="url(#c1098_302_0)"/>
<use href="#c1098_302_l" fill="none" stroke="#20205A" stroke-width="1.3" clip-path="url(#c1098_302_1)"/>
<use href="#c1098_302_l" fill="none" stroke="#3A3A1A" stroke-width="1.3" clip-path="url(#c1098_302_2)"/>
<use href="#c1098_302_l" fill="none" stroke="#1A4A1A" stroke-width="1.3" clip-path="url(#c1098_302_3)"/>
<rect x="1098.4" y="302.9" width="173.2" height="173.2" fill="none" stroke="#6a6a6a" stroke-width="1.2" />
<line x1="1098.4" y1="302.9" x2="1098.4" y2="476.1" stroke="#7a7a7a" stroke-width="1.6" />
<line x1="1098.4" y1="476.1" x2="1271.6" y2="476.1" stroke="#333" stroke-width="1.2" />
<line x1="1093.4" y1="474.7" x2="1098.4" y2="474.7" stroke="#111" stroke-width="1.4" />
<text x="1090.8" y="477.1" font-size="6.3" text-anchor="end" fill="#333" font-weight="bold" >0</text>
<line x1="1095.9" y1="466.51" x2="1098.4" y2="466.51" stroke="#333" stroke-width="0.8" />
<line x1="1095.9" y1="458.33" x2="1098.4" y2="458.33" stroke="#333" stroke-width="0.8" />
<line x1="1095.9" y1="450.14" x2="1098.4" y2="450.14" stroke="#333" stroke-width="0.8" />
<line x1="1093.4" y1="441.96" x2="1098.4" y2="441.96" stroke="#111" stroke-width="1.4" />
<text x="1090.8" y="444.36" font-size="6.3" text-anchor="end" fill="#333" font-weight="bold" >20</text>
<line x1="1095.9" y1="433.77" x2="1098.4" y2="433.77" stroke="#333" stroke-width="0.8" />
<line x1="1095.9" y1="425.59" x2="1098.4" y2="425.59" stroke="#333" stroke-width="0.8" />
<line x1="1095.9" y1="417.4" x2="1098.4" y2="417.4" stroke="#333" stroke-width="0.8" />
<line x1="1093.4" y1="409.22" x2="1098.4" y2="409.22" stroke="#111" stroke-width="1.4" />
<text x="1090.8" y="411.62" font-size="6.3" text-anchor="end" fill="#333" font-weight="bold" >40</text>
<line x1="1095.9" y1="401.03" x2="1098.4" y2="401.03" stroke="#333" stroke-width="0.8" />
<line x1="1095.9" y1="392.85" x2="1098.4" y2="392.85" stroke="#333" stroke-width="0.8" />
<line x1="1095.9" y1="384.66" x2="1098.4" y2="384.66" stroke="#333" stroke-width="0.8" />
<line x1="1093.4" y1="376.48" x2="1098.4" y2="376.48" stroke="#111" stroke-width="1.4" />
<text x="1090.8" y="378.88" font-size="6.3" text-anchor="end" fill="#333" font-weight="bold" >60</text>
<line x1="1095.9" y1="368.29" x2="1098.4" y2="368.29" stroke="#333" stroke-width="0.8" />
<line x1="1095.9" y1="360.11" x2="1098.4" y2="360.11" stroke="#333" stroke-width="0.8" />
<line x1="1095.9" y1="351.92" x2="1098.4" y2="351.92" stroke="#333" stroke-width="0.8" />
<line x1="1093.4" y1="343.74" x2="1098.4" y2="343.74" stroke="#111" stroke-width="1.4" />
<text x="1090.8" y="346.14" font-size="6.3" text-anchor="end" fill="#333" font-weight="bold" >80</text>
<line x1="1095.9" y1="335.55" x2="1098.4" y2="335.55" stroke="#333" stroke-width="0.8" />
<line x1="1095.9" y1="327.37" x2="1098.4" y2="327.37" stroke="#333" stroke-width="0.8" />
<line x1="1095.9" y1="319.18" x2="1098.4" y2="319.18" stroke="#333" stroke-width="0.8" />
<line x1="1093.4" y1="311" x2="1098.4" y2="311" stroke="#111" stroke-width="1.4" />
<text x="1090.8" y="313.4" font-size="6.3" text-anchor="end" fill="#333" font-weight="bold" >100</text>
<line x1="1099.9" y1="476.1" x2="1099.9" y2="480.5" stroke="#222" stroke-width="1.3" />
<line x1="1106.42" y1="476.1" x2="1106.42" y2="478.7" stroke="#222" stroke-width="1" />
<line x1="1112.94" y1="476.1" x2="1112.94" y2="478.7" stroke="#222" stroke-width="1" />
<line x1="1119.46" y1="476.1" x2="1119.46" y2="478.7" stroke="#222" stroke-width="1" />
<line x1="1125.98" y1="476.1" x2="1125.98" y2="478.7" stroke="#222" stroke-width="1" />
<line x1="1132.5" y1="476.1" x2="1132.5" y2="480.5" stroke="#222" stroke-width="1.3" />
<line x1="1139.02" y1="476.1" x2="1139.02" y2="478.7" stroke="#222" stroke-width="1" />
<line x1="1145.54" y1="476.1" x2="1145.54" y2="478.7" stroke="#222" stroke-width="1" />
<line x1="1152.06" y1="476.1" x2="1152.06" y2="478.7" stroke="#222" stroke-width="1" />
<line x1="1158.58" y1="476.1" x2="1158.58" y2="478.7" stroke="#222" stroke-width="1" />
<line x1="1165.1" y1="476.1" x2="1165.1" y2="480.5" stroke="#222" stroke-width="1.3" />
<line x1="1171.62" y1="476.1" x2="1171.62" y2="478.7" stroke="#222" stroke-width="1" />
<line x1="1178.14" y1="476.1" x2="1178.14" y2="478.7" stroke="#222" stroke-width="1" />
<line x1="1184.66" y1="476.1" x2="1184.66" y2="478.7" stroke="#222" stroke-width="1" />
<line x1="1191.18" y1="476.1" x2="1191.18" y2="478.7" stroke="#222" stroke-width="1" />
<line x1="1197.7" y1="476.1" x2="1197.7" y2="480.5" stroke="#222" stroke-width="1.3" />
<line x1="1204.22" y1="476.1" x2="1204.22" y2="478.7" stroke="#222" stroke-width="1" />
<line x1="1210.74" y1="476.1" x2="1210.74" y2="478.7" stroke="#222" stroke-width="1" />
<line x1="1217.26" y1="476.1" x2="1217.26" y2="478.7" stroke="#222" stroke-width="1" />
<line x1="1223.78" y1="476.1" x2="1223.78" y2="478.7" stroke="#222" stroke-width="1" />
<line x1="1230.3" y1="476.1" x2="1230.3" y2="480.5" stroke="#222" stroke-width="1.3" />
<line x1="1236.82" y1="476.1" x2="1236.82" y2="478.7" stroke="#222" stroke-width="1" />
<line x1="1243.34" y1="476.1" x2="1243.34" y2="478.7" stroke="#222" stroke-width="1" />
<line x1="1249.86" y1="476.1" x2="1249.86" y2="478.7" stroke="#222" stroke-width="1" />
<line x1="1256.38" y1="476.1" x2="1256.38" y2="478.7" stroke="#222" stroke-width="1" />
<line x1="1262.9" y1="476.1" x2="1262.9" y2="480.5" stroke="#222" stroke-width="1.3" />
<line x1="1269.42" y1="476.1" x2="1269.42" y2="478.7" stroke="#222" stroke-width="1" />
<text x="1100.5" y="488.7" font-size="6.3" text-anchor="middle" fill="#333" font-weight="bold" >0</text>
<text x="1132.95" y="488.7" font-size="6.3" text-anchor="middle" fill="#333" font-weight="bold" >50K</text>
<text x="1165.4" y="488.7" font-size="6.3" text-anchor="middle" fill="#333" font-weight="bold" >100K</text>
<text x="1197.85" y="488.7" font-size="6.3" text-anchor="middle" fill="#333" font-weight="bold" >150K</text>
<text x="1230.3" y="488.7" font-size="6.3" text-anchor="middle" fill="#333" font-weight="bold" >200K</text>
<text x="1262.75" y="488.7" font-size="6.3" text-anchor="middle" fill="#333" font-weight="bold" >250K</text>
<rect x="1148" y="342.4" width="15.2" height="25.2" fill="white" stroke="none" stroke-width="0" opacity="0.85"/>
<rect x="1209.4" y="371" width="13.8" height="24.4" fill="white" stroke="none" stroke-width="0" opacity="0.85"/>
<rect x="1172" y="409.7" width="21.4" height="24.3" fill="white" stroke="none" stroke-width="0" opacity="0.85"/>
<text x="1156.4" y="352.7" font-size="7.5" text-anchor="middle" fill="#222" >G1</text>
<text x="1156.4" y="362.9" font-size="7.5" text-anchor="middle" fill="#222" >73.1</text>
<text x="1219.5" y="381.4" font-size="7.5" text-anchor="middle" fill="#222" >G2</text>
<text x="1219.5" y="391.7" font-size="7.5" text-anchor="middle" fill="#222" >3.72</text>
<text x="1182.2" y="420.2" font-size="7.5" text-anchor="middle" fill="#222" >S</text>
<text x="1182.2" y="430.4" font-size="7.5" text-anchor="middle" fill="#222" >7.08</text>
<line x1="1151.9" y1="389.5" x2="1163.7" y2="389.5" stroke="#3B4FA8" stroke-width="1.5" />
<line x1="1151.9" y1="386.2" x2="1151.9" y2="392.8" stroke="#3B4FA8" stroke-width="1.5" />
<line x1="1163.7" y1="386.2" x2="1163.7" y2="392.8" stroke="#3B4FA8" stroke-width="1.5" />
<line x1="1163.2" y1="398.2" x2="1203.5" y2="398.2" stroke="#B5B32E" stroke-width="1.5" />
<line x1="1163.2" y1="394.9" x2="1163.2" y2="401.5" stroke="#B5B32E" stroke-width="1.5" />
<line x1="1203.5" y1="394.9" x2="1203.5" y2="401.5" stroke="#B5B32E" stroke-width="1.5" />
<line x1="1202.7" y1="407.2" x2="1223.7" y2="407.2" stroke="#5DBB46" stroke-width="1.5" />
<line x1="1202.7" y1="403.9" x2="1202.7" y2="410.5" stroke="#5DBB46" stroke-width="1.5" />
<line x1="1223.7" y1="403.9" x2="1223.7" y2="410.5" stroke="#5DBB46" stroke-width="1.5" />
<rect x="1352.3" y="302.9" width="11.3" height="173.2" fill="#C9C9E6" stroke="none" stroke-width="0" />
<rect x="1363.6" y="302.9" width="39.8" height="173.2" fill="#EBEBC8" stroke="none" stroke-width="0" />
<rect x="1403.4" y="302.9" width="20.2" height="173.2" fill="#CBE6C5" stroke="none" stroke-width="0" />
<use href="#c1298_302_d" fill="#8C8C8C" clip-path="url(#c1298_302_0)"/>
<use href="#c1298_302_d" fill="#7878AA" clip-path="url(#c1298_302_1)"/>
<use href="#c1298_302_d" fill="#B4B48A" clip-path="url(#c1298_302_2)"/>
<use href="#c1298_302_d" fill="#78AA78" clip-path="url(#c1298_302_3)"/>
<use href="#c1298_302_l" fill="none" stroke="#1a1a1a" stroke-width="1.2" clip-path="url(#c1298_302_0)"/>
<use href="#c1298_302_l" fill="none" stroke="#20205A" stroke-width="1.3" clip-path="url(#c1298_302_1)"/>
<use href="#c1298_302_l" fill="none" stroke="#3A3A1A" stroke-width="1.3" clip-path="url(#c1298_302_2)"/>
<use href="#c1298_302_l" fill="none" stroke="#1A4A1A" stroke-width="1.3" clip-path="url(#c1298_302_3)"/>
<rect x="1298.8" y="302.9" width="173.2" height="173.2" fill="none" stroke="#6a6a6a" stroke-width="1.2" />
<line x1="1298.8" y1="302.9" x2="1298.8" y2="476.1" stroke="#7a7a7a" stroke-width="1.6" />
<line x1="1298.8" y1="476.1" x2="1472" y2="476.1" stroke="#333" stroke-width="1.2" />
<line x1="1293.8" y1="474.7" x2="1298.8" y2="474.7" stroke="#111" stroke-width="1.4" />
<text x="1291.2" y="477.1" font-size="6.3" text-anchor="end" fill="#333" font-weight="bold" >0</text>
<line x1="1296.3" y1="466.51" x2="1298.8" y2="466.51" stroke="#333" stroke-width="0.8" />
<line x1="1296.3" y1="458.33" x2="1298.8" y2="458.33" stroke="#333" stroke-width="0.8" />
<line x1="1296.3" y1="450.14" x2="1298.8" y2="450.14" stroke="#333" stroke-width="0.8" />
<line x1="1293.8" y1="441.96" x2="1298.8" y2="441.96" stroke="#111" stroke-width="1.4" />
<text x="1291.2" y="444.36" font-size="6.3" text-anchor="end" fill="#333" font-weight="bold" >20</text>
<line x1="1296.3" y1="433.77" x2="1298.8" y2="433.77" stroke="#333" stroke-width="0.8" />
<line x1="1296.3" y1="425.59" x2="1298.8" y2="425.59" stroke="#333" stroke-width="0.8" />
<line x1="1296.3" y1="417.4" x2="1298.8" y2="417.4" stroke="#333" stroke-width="0.8" />
<line x1="1293.8" y1="409.22" x2="1298.8" y2="409.22" stroke="#111" stroke-width="1.4" />
<text x="1291.2" y="411.62" font-size="6.3" text-anchor="end" fill="#333" font-weight="bold" >40</text>
<line x1="1296.3" y1="401.03" x2="1298.8" y2="401.03" stroke="#333" stroke-width="0.8" />
<line x1="1296.3" y1="392.85" x2="1298.8" y2="392.85" stroke="#333" stroke-width="0.8" />
<line x1="1296.3" y1="384.66" x2="1298.8" y2="384.66" stroke="#333" stroke-width="0.8" />
<line x1="1293.8" y1="376.48" x2="1298.8" y2="376.48" stroke="#111" stroke-width="1.4" />
<text x="1291.2" y="378.88" font-size="6.3" text-anchor="end" fill="#333" font-weight="bold" >60</text>
<line x1="1296.3" y1="368.29" x2="1298.8" y2="368.29" stroke="#333" stroke-width="0.8" />
<line x1="1296.3" y1="360.11" x2="1298.8" y2="360.11" stroke="#333" stroke-width="0.8" />
<line x1="1296.3" y1="351.92" x2="1298.8" y2="351.92" stroke="#333" stroke-width="0.8" />
<line x1="1293.8" y1="343.74" x2="1298.8" y2="343.74" stroke="#111" stroke-width="1.4" />
<text x="1291.2" y="346.14" font-size="6.3" text-anchor="end" fill="#333" font-weight="bold" >80</text>
<line x1="1296.3" y1="335.55" x2="1298.8" y2="335.55" stroke="#333" stroke-width="0.8" />
<line x1="1296.3" y1="327.37" x2="1298.8" y2="327.37" stroke="#333" stroke-width="0.8" />
<line x1="1296.3" y1="319.18" x2="1298.8" y2="319.18" stroke="#333" stroke-width="0.8" />
<line x1="1293.8" y1="311" x2="1298.8" y2="311" stroke="#111" stroke-width="1.4" />
<text x="1291.2" y="313.4" font-size="6.3" text-anchor="end" fill="#333" font-weight="bold" >100</text>
<line x1="1300.3" y1="476.1" x2="1300.3" y2="480.5" stroke="#222" stroke-width="1.3" />
<line x1="1306.82" y1="476.1" x2="1306.82" y2="478.7" stroke="#222" stroke-width="1" />
<line x1="1313.34" y1="476.1" x2="1313.34" y2="478.7" stroke="#222" stroke-width="1" />
<line x1="1319.86" y1="476.1" x2="1319.86" y2="478.7" stroke="#222" stroke-width="1" />
<line x1="1326.38" y1="476.1" x2="1326.38" y2="478.7" stroke="#222" stroke-width="1" />
<line x1="1332.9" y1="476.1" x2="1332.9" y2="480.5" stroke="#222" stroke-width="1.3" />
<line x1="1339.42" y1="476.1" x2="1339.42" y2="478.7" stroke="#222" stroke-width="1" />
<line x1="1345.94" y1="476.1" x2="1345.94" y2="478.7" stroke="#222" stroke-width="1" />
<line x1="1352.46" y1="476.1" x2="1352.46" y2="478.7" stroke="#222" stroke-width="1" />
<line x1="1358.98" y1="476.1" x2="1358.98" y2="478.7" stroke="#222" stroke-width="1" />
<line x1="1365.5" y1="476.1" x2="1365.5" y2="480.5" stroke="#222" stroke-width="1.3" />
<line x1="1372.02" y1="476.1" x2="1372.02" y2="478.7" stroke="#222" stroke-width="1" />
<line x1="1378.54" y1="476.1" x2="1378.54" y2="478.7" stroke="#222" stroke-width="1" />
<line x1="1385.06" y1="476.1" x2="1385.06" y2="478.7" stroke="#222" stroke-width="1" />
<line x1="1391.58" y1="476.1" x2="1391.58" y2="478.7" stroke="#222" stroke-width="1" />
<line x1="1398.1" y1="476.1" x2="1398.1" y2="480.5" stroke="#222" stroke-width="1.3" />
<line x1="1404.62" y1="476.1" x2="1404.62" y2="478.7" stroke="#222" stroke-width="1" />
<line x1="1411.14" y1="476.1" x2="1411.14" y2="478.7" stroke="#222" stroke-width="1" />
<line x1="1417.66" y1="476.1" x2="1417.66" y2="478.7" stroke="#222" stroke-width="1" />
<line x1="1424.18" y1="476.1" x2="1424.18" y2="478.7" stroke="#222" stroke-width="1" />
<line x1="1430.7" y1="476.1" x2="1430.7" y2="480.5" stroke="#222" stroke-width="1.3" />
<line x1="1437.22" y1="476.1" x2="1437.22" y2="478.7" stroke="#222" stroke-width="1" />
<line x1="1443.74" y1="476.1" x2="1443.74" y2="478.7" stroke="#222" stroke-width="1" />
<line x1="1450.26" y1="476.1" x2="1450.26" y2="478.7" stroke="#222" stroke-width="1" />
<line x1="1456.78" y1="476.1" x2="1456.78" y2="478.7" stroke="#222" stroke-width="1" />
<line x1="1463.3" y1="476.1" x2="1463.3" y2="480.5" stroke="#222" stroke-width="1.3" />
<line x1="1469.82" y1="476.1" x2="1469.82" y2="478.7" stroke="#222" stroke-width="1" />
<text x="1300.9" y="488.7" font-size="6.3" text-anchor="middle" fill="#333" font-weight="bold" >0</text>
<text x="1333.35" y="488.7" font-size="6.3" text-anchor="middle" fill="#333" font-weight="bold" >50K</text>
<text x="1365.8" y="488.7" font-size="6.3" text-anchor="middle" fill="#333" font-weight="bold" >100K</text>
<text x="1398.25" y="488.7" font-size="6.3" text-anchor="middle" fill="#333" font-weight="bold" >150K</text>
<text x="1430.7" y="488.7" font-size="6.3" text-anchor="middle" fill="#333" font-weight="bold" >200K</text>
<text x="1463.15" y="488.7" font-size="6.3" text-anchor="middle" fill="#333" font-weight="bold" >250K</text>
<rect x="1348.4" y="342.4" width="15.2" height="25.2" fill="white" stroke="none" stroke-width="0" opacity="0.85"/>
<rect x="1409.8" y="371" width="13.8" height="24.4" fill="white" stroke="none" stroke-width="0" opacity="0.85"/>
<rect x="1372.4" y="409.7" width="21.4" height="24.3" fill="white" stroke="none" stroke-width="0" opacity="0.85"/>
<text x="1356.8" y="352.7" font-size="7.5" text-anchor="middle" fill="#222" >G1</text>
<text x="1356.8" y="362.9" font-size="7.5" text-anchor="middle" fill="#222" >49.6</text>
<text x="1419.9" y="381.4" font-size="7.5" text-anchor="middle" fill="#222" >G2</text>
<text x="1419.9" y="391.7" font-size="7.5" text-anchor="middle" fill="#222" >16.3</text>
<text x="1382.6" y="420.2" font-size="7.5" text-anchor="middle" fill="#222" >S</text>
<text x="1382.6" y="430.4" font-size="7.5" text-anchor="middle" fill="#222" >9.96</text>
<line x1="1352.3" y1="389.5" x2="1364.1" y2="389.5" stroke="#3B4FA8" stroke-width="1.5" />
<line x1="1352.3" y1="386.2" x2="1352.3" y2="392.8" stroke="#3B4FA8" stroke-width="1.5" />
<line x1="1364.1" y1="386.2" x2="1364.1" y2="392.8" stroke="#3B4FA8" stroke-width="1.5" />
<line x1="1363.6" y1="398.2" x2="1403.9" y2="398.2" stroke="#B5B32E" stroke-width="1.5" />
<line x1="1363.6" y1="394.9" x2="1363.6" y2="401.5" stroke="#B5B32E" stroke-width="1.5" />
<line x1="1403.9" y1="394.9" x2="1403.9" y2="401.5" stroke="#B5B32E" stroke-width="1.5" />
<line x1="1403.1" y1="407.2" x2="1424.1" y2="407.2" stroke="#5DBB46" stroke-width="1.5" />
<line x1="1403.1" y1="403.9" x2="1403.1" y2="410.5" stroke="#5DBB46" stroke-width="1.5" />
<line x1="1424.1" y1="403.9" x2="1424.1" y2="410.5" stroke="#5DBB46" stroke-width="1.5" />
<text x="1181" y="92.4" font-size="25.8" text-anchor="middle" fill="#000" >vehicle</text>
<text x="1377.8" y="92.4" font-size="25.8" text-anchor="middle" fill="#000" >AZA</text>
<text x="1493.4" y="192.1" font-size="20.3" text-anchor="middle" fill="#000" transform="rotate(-90 1493.4 192.1)" >sgCONTROL</text>
<text x="1493.4" y="392.5" font-size="20.3" text-anchor="middle" fill="#000" transform="rotate(-90 1493.4 392.5)" >sgTOPORS-1</text>
<text x="1067.5" y="288.6" font-size="25.1" text-anchor="middle" fill="#000" transform="rotate(-90 1067.5 288.6)" >relative cell frequency</text>
<text x="1287" y="517.3" font-size="25.3" text-anchor="middle" fill="#000" >DNA content (DAPI fluorescence)</text>
<rect x="1148.6" y="539" width="39.6" height="21" fill="#C8C8E4" stroke="#000" stroke-width="2.2" />
<text x="1200" y="560" font-size="23" text-anchor="start" fill="#000" >G1</text>
<rect x="1246.4" y="539" width="39.6" height="21" fill="#ECEEC8" stroke="#000" stroke-width="2.2" />
<text x="1297.8" y="560" font-size="23" text-anchor="start" fill="#000" >S</text>
<rect x="1328.6" y="539" width="39.6" height="21" fill="#CCE6C4" stroke="#000" stroke-width="2.2" />
<text x="1380" y="560" font-size="23" text-anchor="start" fill="#000" >G2/M</text>
<line x1="110.6" y1="713.6" x2="110.6" y2="1069.7" stroke="#000" stroke-width="2.8" />
<line x1="94.1" y1="1068.9" x2="112" y2="1068.9" stroke="#000" stroke-width="2.8" />
<line x1="116.8" y1="1068.9" x2="215" y2="1068.9" stroke="#000" stroke-width="2.8" />
<line x1="223.4" y1="1068.9" x2="323.9" y2="1068.9" stroke="#000" stroke-width="2.8" />
<line x1="93.5" y1="1068.3" x2="110.6" y2="1068.3" stroke="#000" stroke-width="2.8" />
<text x="87.2" y="1073.6" font-size="29.5" text-anchor="end" fill="#000" >0</text>
<line x1="101.3" y1="1032.98" x2="110.6" y2="1032.98" stroke="#000" stroke-width="2.8" />
<line x1="93.5" y1="997.66" x2="110.6" y2="997.66" stroke="#000" stroke-width="2.8" />
<text x="87.2" y="1008.06" font-size="29.5" text-anchor="end" fill="#000" >20</text>
<line x1="101.3" y1="962.34" x2="110.6" y2="962.34" stroke="#000" stroke-width="2.8" />
<line x1="93.5" y1="927.02" x2="110.6" y2="927.02" stroke="#000" stroke-width="2.8" />
<text x="87.2" y="937.42" font-size="29.5" text-anchor="end" fill="#000" >40</text>
<line x1="101.3" y1="891.7" x2="110.6" y2="891.7" stroke="#000" stroke-width="2.8" />
<line x1="93.5" y1="856.38" x2="110.6" y2="856.38" stroke="#000" stroke-width="2.8" />
<text x="87.2" y="866.78" font-size="29.5" text-anchor="end" fill="#000" >60</text>
<line x1="101.3" y1="821.06" x2="110.6" y2="821.06" stroke="#000" stroke-width="2.8" />
<line x1="93.5" y1="785.74" x2="110.6" y2="785.74" stroke="#000" stroke-width="2.8" />
<text x="87.2" y="796.14" font-size="29.5" text-anchor="end" fill="#000" >80</text>
<line x1="101.3" y1="750.42" x2="110.6" y2="750.42" stroke="#000" stroke-width="2.8" />
<line x1="93.5" y1="715.1" x2="110.6" y2="715.1" stroke="#000" stroke-width="2.8" />
<text x="87.2" y="725.5" font-size="29.5" text-anchor="end" fill="#000" >100</text>
<text x="38.3" y="880.4" font-size="30.5" text-anchor="middle" fill="#000" transform="rotate(-90 38.3 880.4)" textLength="175" lengthAdjust="spacingAndGlyphs">% of live cells</text>
<rect x="122.7" y="717.9" width="38.1" height="351" fill="#C8E5C3" stroke="#000" stroke-width="2.8" />
<rect x="122.7" y="737.7" width="38.1" height="331.2" fill="#ECEEC8" stroke="#000" stroke-width="2.6" />
<rect x="122.7" y="777" width="38.1" height="291.9" fill="#C7C7E4" stroke="#000" stroke-width="2.6" />
<rect x="170.1" y="719.5" width="38.2" height="349.4" fill="#C8E5C3" stroke="#000" stroke-width="2.8" />
<rect x="170.1" y="735.1" width="38.2" height="333.8" fill="#ECEEC8" stroke="#000" stroke-width="2.6" />
<rect x="170.1" y="768.4" width="38.2" height="300.5" fill="#C7C7E4" stroke="#000" stroke-width="2.6" />
<rect x="230.2" y="715.5" width="38.2" height="353.4" fill="#C8E5C3" stroke="#000" stroke-width="2.8" />
<rect x="230.2" y="730.6" width="38.2" height="338.3" fill="#ECEEC8" stroke="#000" stroke-width="2.6" />
<rect x="230.2" y="766.4" width="38.2" height="302.5" fill="#C7C7E4" stroke="#000" stroke-width="2.6" />
<rect x="277.8" y="720" width="38.1" height="348.9" fill="#C8E5C3" stroke="#000" stroke-width="2.8" />
<rect x="277.8" y="790.6" width="38.1" height="278.3" fill="#ECEEC8" stroke="#000" stroke-width="2.6" />
<rect x="277.8" y="856.4" width="38.1" height="212.5" fill="#C7C7E4" stroke="#000" stroke-width="2.6" />
<circle cx="141.5" cy="703.6" r="5.1" stroke="#000" fill="#C8E5C3" stroke-width="1.1" />
<circle cx="141.6" cy="715.7" r="5.1" stroke="#000" fill="#C8E5C3" stroke-width="1.1" />
<circle cx="141.3" cy="724.8" r="5.1" stroke="#000" fill="#C8E5C3" stroke-width="1.1" />
<circle cx="131.2" cy="740.7" r="5.1" stroke="#000" fill="#ECEEC8" stroke-width="1.1" />
<circle cx="151.6" cy="733.9" r="5.1" stroke="#000" fill="#ECEEC8" stroke-width="1.1" />
<circle cx="141.5" cy="735.5" r="5.1" stroke="#000" fill="#ECEEC8" stroke-width="1.1" />
<circle cx="141.8" cy="760.4" r="5.1" stroke="#000" fill="#C7C7E4" stroke-width="1.1" />
<circle cx="131.9" cy="785.3" r="5.1" stroke="#000" fill="#C7C7E4" stroke-width="1.1" />
<circle cx="151.2" cy="779.3" r="5.1" stroke="#000" fill="#C7C7E4" stroke-width="1.1" />
<line x1="141.5" y1="705.1" x2="141.5" y2="727.1" stroke="#000" stroke-width="2.6" />
<line x1="130.2" y1="705.1" x2="152.8" y2="705.1" stroke="#000" stroke-width="2.6" />
<line x1="130.2" y1="727.1" x2="152.8" y2="727.1" stroke="#000" stroke-width="2.6" />
<line x1="141.5" y1="730.9" x2="141.5" y2="739.2" stroke="#000" stroke-width="2.6" />
<line x1="130.2" y1="730.9" x2="152.8" y2="730.9" stroke="#000" stroke-width="2.6" />
<line x1="130.2" y1="739.2" x2="152.8" y2="739.2" stroke="#000" stroke-width="2.6" />
<line x1="141.5" y1="763.8" x2="141.5" y2="789.1" stroke="#000" stroke-width="2.6" />
<line x1="130.2" y1="763.8" x2="152.8" y2="763.8" stroke="#000" stroke-width="2.6" />
<line x1="130.2" y1="789.1" x2="152.8" y2="789.1" stroke="#000" stroke-width="2.6" />
<circle cx="188.4" cy="709.7" r="5.1" stroke="#000" fill="#C8E5C3" stroke-width="1.1" />
<circle cx="178.8" cy="721" r="5.1" stroke="#000" fill="#C8E5C3" stroke-width="1.1" />
<circle cx="198.5" cy="718.7" r="5.1" stroke="#000" fill="#C8E5C3" stroke-width="1.1" />
<circle cx="178.8" cy="742.2" r="5.1" stroke="#000" fill="#ECEEC8" stroke-width="1.1" />
<circle cx="198.5" cy="739.2" r="5.1" stroke="#000" fill="#ECEEC8" stroke-width="1.1" />
<circle cx="188.6" cy="735" r="5.1" stroke="#000" fill="#ECEEC8" stroke-width="1.1" />
<circle cx="179.3" cy="756.6" r="5.1" stroke="#000" fill="#C7C7E4" stroke-width="1.1" />
<circle cx="199.3" cy="761.1" r="5.1" stroke="#000" fill="#C7C7E4" stroke-width="1.1" />
<circle cx="188.7" cy="785.3" r="5.1" stroke="#000" fill="#C7C7E4" stroke-width="1.1" />
<line x1="188.7" y1="711.2" x2="188.7" y2="722.5" stroke="#000" stroke-width="2.6" />
<line x1="177.4" y1="711.2" x2="200" y2="711.2" stroke="#000" stroke-width="2.6" />
<line x1="177.4" y1="722.5" x2="200" y2="722.5" stroke="#000" stroke-width="2.6" />
<line x1="188.7" y1="726.3" x2="188.7" y2="744.5" stroke="#000" stroke-width="2.6" />
<line x1="177.4" y1="726.3" x2="200" y2="726.3" stroke="#000" stroke-width="2.6" />
<line x1="177.4" y1="744.5" x2="200" y2="744.5" stroke="#000" stroke-width="2.6" />
<line x1="188.7" y1="752" x2="188.7" y2="783" stroke="#000" stroke-width="2.6" />
<line x1="177.4" y1="752" x2="200" y2="752" stroke="#000" stroke-width="2.6" />
<line x1="177.4" y1="783" x2="200" y2="783" stroke="#000" stroke-width="2.6" />
<circle cx="238.6" cy="715.7" r="5.1" stroke="#000" fill="#C8E5C3" stroke-width="1.1" />
<circle cx="248" cy="710.4" r="5.1" stroke="#000" fill="#C8E5C3" stroke-width="1.1" />
<circle cx="257.5" cy="715" r="5.1" stroke="#000" fill="#C8E5C3" stroke-width="1.1" />
<circle cx="238.3" cy="735.4" r="5.1" stroke="#000" fill="#ECEEC8" stroke-width="1.1" />
<circle cx="248" cy="726.3" r="5.1" stroke="#000" fill="#ECEEC8" stroke-width="1.1" />
<circle cx="259" cy="728.6" r="5.1" stroke="#000" fill="#ECEEC8" stroke-width="1.1" />
<circle cx="238.6" cy="767.9" r="5.1" stroke="#000" fill="#C7C7E4" stroke-width="1.1" />
<circle cx="248.4" cy="761.9" r="5.1" stroke="#000" fill="#C7C7E4" stroke-width="1.1" />
<circle cx="259" cy="766.4" r="5.1" stroke="#000" fill="#C7C7E4" stroke-width="1.1" />
<line x1="248.4" y1="712" x2="248.4" y2="716.5" stroke="#000" stroke-width="2.6" />
<line x1="237.1" y1="712" x2="259.7" y2="712" stroke="#000" stroke-width="2.6" />
<line x1="237.1" y1="716.5" x2="259.7" y2="716.5" stroke="#000" stroke-width="2.6" />
<line x1="248.4" y1="726.8" x2="248.4" y2="734.6" stroke="#000" stroke-width="2.6" />
<line x1="237.1" y1="726.8" x2="259.7" y2="726.8" stroke="#000" stroke-width="2.6" />
<line x1="237.1" y1="734.6" x2="259.7" y2="734.6" stroke="#000" stroke-width="2.6" />
<line x1="248.4" y1="764.1" x2="248.4" y2="767.9" stroke="#000" stroke-width="2.6" />
<line x1="237.1" y1="764.1" x2="259.7" y2="764.1" stroke="#000" stroke-width="2.6" />
<line x1="237.1" y1="767.9" x2="259.7" y2="767.9" stroke="#000" stroke-width="2.6" />
<circle cx="287" cy="722.5" r="5.1" stroke="#000" fill="#C8E5C3" stroke-width="1.1" />
<circle cx="296.9" cy="713.5" r="5.1" stroke="#000" fill="#C8E5C3" stroke-width="1.1" />
<circle cx="306.7" cy="718.7" r="5.1" stroke="#000" fill="#C8E5C3" stroke-width="1.1" />
<circle cx="287" cy="792.9" r="5.1" stroke="#000" fill="#ECEEC8" stroke-width="1.1" />
<circle cx="296.9" cy="787.6" r="5.1" stroke="#000" fill="#ECEEC8" stroke-width="1.1" />
<circle cx="306.7" cy="789.1" r="5.1" stroke="#000" fill="#ECEEC8" stroke-width="1.1" />
<circle cx="287" cy="857.2" r="5.1" stroke="#000" fill="#C7C7E4" stroke-width="1.1" />
<circle cx="296.9" cy="851.9" r="5.1" stroke="#000" fill="#C7C7E4" stroke-width="1.1" />
<circle cx="306.7" cy="855.7" r="5.1" stroke="#000" fill="#C7C7E4" stroke-width="1.1" />
<line x1="296.9" y1="714.2" x2="296.9" y2="721.8" stroke="#000" stroke-width="2.6" />
<line x1="285.6" y1="714.2" x2="308.2" y2="714.2" stroke="#000" stroke-width="2.6" />
<line x1="285.6" y1="721.8" x2="308.2" y2="721.8" stroke="#000" stroke-width="2.6" />
<line x1="296.9" y1="788.4" x2="296.9" y2="792.1" stroke="#000" stroke-width="2.6" />
<line x1="285.6" y1="788.4" x2="308.2" y2="788.4" stroke="#000" stroke-width="2.6" />
<line x1="285.6" y1="792.1" x2="308.2" y2="792.1" stroke="#000" stroke-width="2.6" />
<line x1="296.9" y1="852.7" x2="296.9" y2="858" stroke="#000" stroke-width="2.6" />
<line x1="285.6" y1="852.7" x2="308.2" y2="852.7" stroke="#000" stroke-width="2.6" />
<line x1="285.6" y1="858" x2="308.2" y2="858" stroke="#000" stroke-width="2.6" />
<text x="149.4" y="944.4" font-size="20.1" text-anchor="middle" fill="#000" transform="rotate(-90 149.4 944.4)" >P=0.000056</text>
<text x="197.1" y="944.4" font-size="20.1" text-anchor="middle" fill="#000" transform="rotate(-90 197.1 944.4)" >P=0.000026</text>
<text x="257.1" y="944.4" font-size="20.1" text-anchor="middle" fill="#000" transform="rotate(-90 257.1 944.4)" >P=0.000022</text>
<line x1="123.6" y1="688" x2="262.5" y2="688" stroke="#000" stroke-width="2.4" />
<path d="M192.6,688 L192.6,655.9 L297,655.9 L297,688" stroke="#000" stroke-width="2.4" fill="none" stroke-linejoin="miter" />
<text x="247.5" y="659.64" font-size="26.5" text-anchor="middle" fill="#000" letter-spacing="1.6">****</text>
<rect x="341.45" y="744.75" width="44.9" height="23.7" fill="#C8E5C3" stroke="#000" stroke-width="2.3" />
<text x="400" y="768.95" font-size="26.5" text-anchor="start" fill="#000" >G2/M</text>
<rect x="341.45" y="811.35" width="44.9" height="23.7" fill="#ECEEC8" stroke="#000" stroke-width="2.3" />
<text x="400" y="835.55" font-size="26.5" text-anchor="start" fill="#000" >S</text>
<rect x="341.45" y="877.55" width="44.9" height="23.7" fill="#C7C7E4" stroke="#000" stroke-width="2.3" />
<text x="400" y="901.75" font-size="26.5" text-anchor="start" fill="#000" >G1</text>
<text x="129.2" y="1086" font-size="30.8" text-anchor="start" fill="#000" transform="rotate(90 129.2 1086)" >veh.</text>
<text x="179.2" y="1086" font-size="30.8" text-anchor="start" fill="#000" transform="rotate(90 179.2 1086)" >AZA</text>
<text x="242.2" y="1086" font-size="30.8" text-anchor="start" fill="#000" transform="rotate(90 242.2 1086)" >veh.</text>
<text x="286.2" y="1086" font-size="30.8" text-anchor="start" fill="#000" transform="rotate(90 286.2 1086)" >AZA</text>
<line x1="116.8" y1="1153.4" x2="215" y2="1153.4" stroke="#000" stroke-width="2.6" />
<line x1="223.4" y1="1153.4" x2="323.9" y2="1153.4" stroke="#000" stroke-width="2.6" />
<text x="165.9" y="1184" font-size="24.8" text-anchor="middle" fill="#000" >sgCONT.</text>
<text x="274.5" y="1184" font-size="24.8" text-anchor="middle" fill="#000" >sgTOP.</text>
<line x1="602.3" y1="714" x2="602.3" y2="1140.2" stroke="#000" stroke-width="2.7" />
<line x1="584.9" y1="1138.9" x2="602.3" y2="1138.9" stroke="#000" stroke-width="2.7" />
<text x="578.8" y="1150.5" font-size="32.5" text-anchor="end" fill="#000" >0</text>
<line x1="592.9" y1="1096.57" x2="602.3" y2="1096.57" stroke="#000" stroke-width="2.7" />
<line x1="584.9" y1="1054.24" x2="602.3" y2="1054.24" stroke="#000" stroke-width="2.7" />
<text x="578.8" y="1065.84" font-size="32.5" text-anchor="end" fill="#000" >10</text>
<line x1="592.9" y1="1011.91" x2="602.3" y2="1011.91" stroke="#000" stroke-width="2.7" />
<line x1="584.9" y1="969.58" x2="602.3" y2="969.58" stroke="#000" stroke-width="2.7" />
<text x="578.8" y="981.18" font-size="32.5" text-anchor="end" fill="#000" >20</text>
<line x1="592.9" y1="927.25" x2="602.3" y2="927.25" stroke="#000" stroke-width="2.7" />
<line x1="584.9" y1="884.92" x2="602.3" y2="884.92" stroke="#000" stroke-width="2.7" />
<text x="578.8" y="896.52" font-size="32.5" text-anchor="end" fill="#000" >30</text>
<line x1="592.9" y1="842.59" x2="602.3" y2="842.59" stroke="#000" stroke-width="2.7" />
<line x1="584.9" y1="800.26" x2="602.3" y2="800.26" stroke="#000" stroke-width="2.7" />
<text x="578.8" y="811.86" font-size="32.5" text-anchor="end" fill="#000" >40</text>
<line x1="592.9" y1="757.93" x2="602.3" y2="757.93" stroke="#000" stroke-width="2.7" />
<line x1="584.9" y1="715.6" x2="602.3" y2="715.6" stroke="#000" stroke-width="2.7" />
<text x="578.8" y="727.2" font-size="32.5" text-anchor="end" fill="#000" >50</text>
<text x="532.3" y="927.6" font-size="31.5" text-anchor="middle" fill="#000" transform="rotate(-90 532.3 927.6)" textLength="230" lengthAdjust="spacingAndGlyphs">Ann. V<tspan font-size="18" dy="-12">+</tspan><tspan dy="12"> % of cells</tspan></text>
<line x1="618" y1="784.9" x2="785.5" y2="784.9" stroke="#000" stroke-width="2.6" />
<path d="M698.7,784.9 L698.7,725.1 L832.3,725.1 L832.3,755.7" stroke="#000" stroke-width="2.6" fill="none" stroke-linejoin="miter" />
<text x="766.5" y="723.64" font-size="26.5" text-anchor="middle" fill="#000" letter-spacing="1.6">****</text>
<line x1="622.6" y1="907.7" x2="667" y2="907.7" stroke="#000" stroke-width="3.8" />
<circle cx="631.6" cy="909.1" r="7.75" stroke="#000" fill="none" stroke-width="2.5" />
<circle cx="644.4" cy="905" r="7.75" stroke="#000" fill="none" stroke-width="2.5" />
<circle cx="657.3" cy="907.7" r="7.75" stroke="#000" fill="none" stroke-width="2.5" />
<circle cx="708.2" cy="902.9" r="8.6" stroke="#000" fill="#000" stroke-width="0.5" />
<circle cx="708.2" cy="921.3" r="8.6" stroke="#000" fill="#000" stroke-width="0.5" />
<circle cx="708.2" cy="942" r="8.6" stroke="#000" fill="#000" stroke-width="0.5" />
<line x1="686.8" y1="921.3" x2="729.8" y2="921.3" stroke="#000" stroke-width="4.5" />
<circle cx="759.2" cy="950" r="7.75" stroke="#E9922B" fill="none" stroke-width="2.5" />
<circle cx="772.1" cy="941.7" r="7.75" stroke="#E9922B" fill="none" stroke-width="2.5" />
<circle cx="784.9" cy="949.3" r="7.75" stroke="#E9922B" fill="none" stroke-width="2.5" />
<line x1="750.9" y1="949.3" x2="793.2" y2="949.3" stroke="#000" stroke-width="4.5" />
<circle cx="836" cy="778.3" r="7.6" stroke="#E9922B" fill="#F3CDAF" stroke-width="2.6" />
<circle cx="823.3" cy="792.7" r="7.6" stroke="#E9922B" fill="#F3CDAF" stroke-width="2.6" />
<circle cx="849.1" cy="788.2" r="7.6" stroke="#E9922B" fill="#F3CDAF" stroke-width="2.6" />
<line x1="815.2" y1="788.5" x2="856.7" y2="788.5" stroke="#000" stroke-width="4.5" />
<text x="649.4" y="840" font-size="14.3" text-anchor="middle" fill="#000" transform="rotate(-90 649.4 840)" >P=0.000003</text>
<text x="712.2" y="840" font-size="14.3" text-anchor="middle" fill="#000" transform="rotate(-90 712.2 840)" >P=0.000001</text>
<text x="775.6" y="840" font-size="14.3" text-anchor="middle" fill="#000" transform="rotate(-90 775.6 840)" >P&lt;0.000001</text>
<path d="M644.4,944.5 L644.4,996.5 L772.4,996.5 L772.4,982.6" stroke="#000" stroke-width="2.5" fill="none" stroke-linejoin="miter" />
<text x="709.5" y="1025.06" font-size="28" text-anchor="middle" fill="#000" letter-spacing="3.2">**</text>
<text x="708.2" y="1032.6" font-size="14.5" text-anchor="middle" fill="#000" >P=0.0079</text>
<line x1="621.5" y1="1138.5" x2="728.9" y2="1138.5" stroke="#000" stroke-width="2.6" />
<line x1="744.8" y1="1138.5" x2="852.5" y2="1138.5" stroke="#000" stroke-width="2.6" />
<text x="621.8" y="1160.7" font-size="20.4" text-anchor="start" fill="#000" >veh.</text>
<text x="672.5" y="1160.7" font-size="20.4" text-anchor="start" fill="#000" >AZA</text>
<text x="752.6" y="1158.8" font-size="20.4" text-anchor="start" fill="#000" >veh.</text>
<text x="815.2" y="1160.7" font-size="20.4" text-anchor="start" fill="#000" >AZA</text>
<text x="617.1" y="1184.4" font-size="24.5" text-anchor="start" fill="#000" >sgCONT.</text>
<text x="741.3" y="1184.4" font-size="23.7" text-anchor="start" fill="#000" >sgTOPORS</text>
<line x1="997.2" y1="713.2" x2="997.2" y2="1140.5" stroke="#000" stroke-width="2.7" />
<line x1="980.7" y1="1139.4" x2="997.2" y2="1139.4" stroke="#000" stroke-width="2.7" />
<text x="974.3" y="1150.8" font-size="32.2" text-anchor="end" fill="#000" >0</text>
<line x1="988.6" y1="1111.04" x2="997.2" y2="1111.04" stroke="#000" stroke-width="2.7" />
<line x1="988.6" y1="1082.68" x2="997.2" y2="1082.68" stroke="#000" stroke-width="2.7" />
<line x1="988.6" y1="1054.32" x2="997.2" y2="1054.32" stroke="#000" stroke-width="2.7" />
<line x1="988.6" y1="1025.96" x2="997.2" y2="1025.96" stroke="#000" stroke-width="2.7" />
<line x1="980.7" y1="997.6" x2="997.2" y2="997.6" stroke="#000" stroke-width="2.7" />
<text x="974.3" y="1009.1" font-size="32.2" text-anchor="end" fill="#000" >1</text>
<line x1="988.6" y1="969.24" x2="997.2" y2="969.24" stroke="#000" stroke-width="2.7" />
<line x1="988.6" y1="940.88" x2="997.2" y2="940.88" stroke="#000" stroke-width="2.7" />
<line x1="988.6" y1="912.52" x2="997.2" y2="912.52" stroke="#000" stroke-width="2.7" />
<line x1="988.6" y1="884.16" x2="997.2" y2="884.16" stroke="#000" stroke-width="2.7" />
<line x1="980.7" y1="855.8" x2="997.2" y2="855.8" stroke="#000" stroke-width="2.7" />
<text x="974.3" y="867.3" font-size="32.2" text-anchor="end" fill="#000" >2</text>
<line x1="988.6" y1="827.44" x2="997.2" y2="827.44" stroke="#000" stroke-width="2.7" />
<line x1="988.6" y1="799.08" x2="997.2" y2="799.08" stroke="#000" stroke-width="2.7" />
<line x1="988.6" y1="770.72" x2="997.2" y2="770.72" stroke="#000" stroke-width="2.7" />
<line x1="988.6" y1="742.36" x2="997.2" y2="742.36" stroke="#000" stroke-width="2.7" />
<line x1="980.7" y1="714" x2="997.2" y2="714" stroke="#000" stroke-width="2.7" />
<text x="974.3" y="725.5" font-size="32.2" text-anchor="end" fill="#000" >3</text>
<text x="939" y="926.3" font-size="31" text-anchor="middle" fill="#000" transform="rotate(-90 939 926.3)" textLength="349" lengthAdjust="spacingAndGlyphs">pmol <tspan font-style="italic">5</tspan> aza dC per µg DNA</text>
<line x1="980.7" y1="1139.4" x2="1081.9" y2="1139.4" stroke="#000" stroke-width="2.7" />
<line x1="1096.2" y1="1139.4" x2="1180.8" y2="1139.4" stroke="#000" stroke-width="2.7" />
<circle cx="1014.2" cy="1139.4" r="8.3" stroke="#000" fill="none" stroke-width="2.3" />
<circle cx="1019.7" cy="1139.4" r="8.3" stroke="#000" fill="none" stroke-width="2.3" />
<circle cx="1025.2" cy="1139.4" r="8.3" stroke="#000" fill="none" stroke-width="2.3" />
<circle cx="1050.3" cy="1139.4" r="8.3" stroke="#F27D21" fill="none" stroke-width="2.3" />
<circle cx="1055.9" cy="1139.4" r="8.3" stroke="#F27D21" fill="none" stroke-width="2.3" />
<circle cx="1061.5" cy="1139.4" r="8.3" stroke="#F27D21" fill="none" stroke-width="2.3" />
<line x1="1005" y1="1139.4" x2="1034" y2="1139.4" stroke="#000" stroke-width="3.5" />
<line x1="1042" y1="1139.4" x2="1070" y2="1139.4" stroke="#000" stroke-width="3.5" />
<circle cx="1121.7" cy="812" r="8.3" stroke="#000" fill="none" stroke-width="2.3" />
<circle cx="1121.7" cy="874" r="8.3" stroke="#000" fill="none" stroke-width="2.3" />
<circle cx="1121.7" cy="901.4" r="8.3" stroke="#000" fill="none" stroke-width="2.3" />
<line x1="1107.6" y1="862.6" x2="1136.2" y2="862.6" stroke="#000" stroke-width="4.2" />
<circle cx="1157.9" cy="909.7" r="8.3" stroke="#F27D21" fill="none" stroke-width="2.3" />
<circle cx="1152.6" cy="931.4" r="8.3" stroke="#F27D21" fill="none" stroke-width="2.3" />
<circle cx="1164.1" cy="927.8" r="8.3" stroke="#F27D21" fill="none" stroke-width="2.3" />
<line x1="1143.8" y1="923.4" x2="1172" y2="923.4" stroke="#000" stroke-width="4.2" />
<path d="M1120.3,787.6 L1120.3,772.1 L1156.7,772.1 L1156.7,787.6" stroke="#000" stroke-width="2.6" fill="none" stroke-linejoin="miter" />
<text x="1138.5" y="764.4" font-size="21.3" text-anchor="middle" fill="#231F20" >P=0.08</text>
<text x="1006.8" y="1183.9" font-size="32.2" text-anchor="start" fill="#000" >veh.</text>
<text x="1105.5" y="1183.9" font-size="32.2" text-anchor="start" fill="#000" >AZA</text>
<line x1="1312.4" y1="713" x2="1312.4" y2="1140.4" stroke="#000" stroke-width="2.7" />
<line x1="1295.8" y1="1139.1" x2="1312.4" y2="1139.1" stroke="#000" stroke-width="2.7" />
<text x="1289.4" y="1150.6" font-size="32.2" text-anchor="end" fill="#000" >0</text>
<line x1="1303.8" y1="1103.66" x2="1312.4" y2="1103.66" stroke="#000" stroke-width="2.7" />
<line x1="1295.8" y1="1068.23" x2="1312.4" y2="1068.23" stroke="#000" stroke-width="2.7" />
<text x="1289.4" y="1079.73" font-size="32.2" text-anchor="end" fill="#000" >1</text>
<line x1="1303.8" y1="1032.79" x2="1312.4" y2="1032.79" stroke="#000" stroke-width="2.7" />
<line x1="1295.8" y1="997.36" x2="1312.4" y2="997.36" stroke="#000" stroke-width="2.7" />
<text x="1289.4" y="1008.86" font-size="32.2" text-anchor="end" fill="#000" >2</text>
<line x1="1303.8" y1="961.92" x2="1312.4" y2="961.92" stroke="#000" stroke-width="2.7" />
<line x1="1295.8" y1="926.49" x2="1312.4" y2="926.49" stroke="#000" stroke-width="2.7" />
<text x="1289.4" y="937.99" font-size="32.2" text-anchor="end" fill="#000" >3</text>
<line x1="1303.8" y1="891.05" x2="1312.4" y2="891.05" stroke="#000" stroke-width="2.7" />
<line x1="1295.8" y1="855.62" x2="1312.4" y2="855.62" stroke="#000" stroke-width="2.7" />
<text x="1289.4" y="867.12" font-size="32.2" text-anchor="end" fill="#000" >4</text>
<line x1="1303.8" y1="820.18" x2="1312.4" y2="820.18" stroke="#000" stroke-width="2.7" />
<line x1="1295.8" y1="784.75" x2="1312.4" y2="784.75" stroke="#000" stroke-width="2.7" />
<text x="1289.4" y="796.25" font-size="32.2" text-anchor="end" fill="#000" >5</text>
<line x1="1303.8" y1="749.31" x2="1312.4" y2="749.31" stroke="#000" stroke-width="2.7" />
<line x1="1295.8" y1="713.88" x2="1312.4" y2="713.88" stroke="#000" stroke-width="2.7" />
<text x="1289.4" y="725.38" font-size="32.2" text-anchor="end" fill="#000" >6</text>
<text x="1249.9" y="956.9" font-size="31.5" text-anchor="middle" fill="#000" transform="rotate(-90 1249.9 956.9)" textLength="369" lengthAdjust="spacingAndGlyphs"><tspan font-style="italic">5</tspan>me dC/total dC in DNA (%)</text>
<line x1="1315.5" y1="1139.1" x2="1399.6" y2="1139.1" stroke="#000" stroke-width="2.7" />
<line x1="1414.9" y1="1139.1" x2="1498" y2="1139.1" stroke="#000" stroke-width="2.7" />
<circle cx="1328.6" cy="842.1" r="8.1" stroke="#000" fill="none" stroke-width="2.4" />
<circle cx="1340.3" cy="857.1" r="8.1" stroke="#000" fill="none" stroke-width="2.4" />
<circle cx="1334.3" cy="878.6" r="8.1" stroke="#000" fill="none" stroke-width="2.4" />
<line x1="1320" y1="859.7" x2="1349.3" y2="859.7" stroke="#000" stroke-width="4.7" />
<circle cx="1370" cy="847.1" r="8.1" stroke="#F27D21" fill="none" stroke-width="2.4" />
<circle cx="1376.4" cy="864.6" r="8.1" stroke="#F27D21" fill="none" stroke-width="2.4" />
<circle cx="1364.3" cy="875" r="8.1" stroke="#F27D21" fill="none" stroke-width="2.4" />
<line x1="1356.4" y1="862.6" x2="1384.6" y2="862.6" stroke="#000" stroke-width="4.7" />
<circle cx="1435.7" cy="912.9" r="8.1" stroke="#000" fill="none" stroke-width="2.4" />
<circle cx="1442.1" cy="922.9" r="8.1" stroke="#000" fill="none" stroke-width="2.4" />
<circle cx="1430" cy="927.9" r="8.1" stroke="#000" fill="none" stroke-width="2.4" />
<line x1="1422.1" y1="921.4" x2="1449.3" y2="921.4" stroke="#000" stroke-width="4.7" />
<circle cx="1472.1" cy="892.1" r="8.1" stroke="#F27D21" fill="none" stroke-width="2.4" />
<circle cx="1478.6" cy="910.7" r="8.1" stroke="#F27D21" fill="none" stroke-width="2.4" />
<circle cx="1466.4" cy="920" r="8.1" stroke="#F27D21" fill="none" stroke-width="2.4" />
<line x1="1457.9" y1="907.9" x2="1486" y2="907.9" stroke="#000" stroke-width="4.7" />
<path d="M1335,817.9 L1335,802.6 L1371.4,802.6 L1371.4,817.9" stroke="#000" stroke-width="2.6" fill="none" stroke-linejoin="miter" />
<text x="1353.4" y="795.4" font-size="21.1" text-anchor="middle" fill="#231F20" >P=1.0</text>
<path d="M1436.4,868.6 L1436.4,853.1 L1472.9,853.1 L1472.9,868.6" stroke="#000" stroke-width="2.6" fill="none" stroke-linejoin="miter" />
<text x="1456" y="843.4" font-size="21.2" text-anchor="middle" fill="#231F20" >P=0.65</text>
<text x="1326" y="1183.9" font-size="32.2" text-anchor="start" fill="#000" >veh.</text>
<text x="1425" y="1183.9" font-size="32.2" text-anchor="start" fill="#000" >AZA</text>
</svg></body></html>
